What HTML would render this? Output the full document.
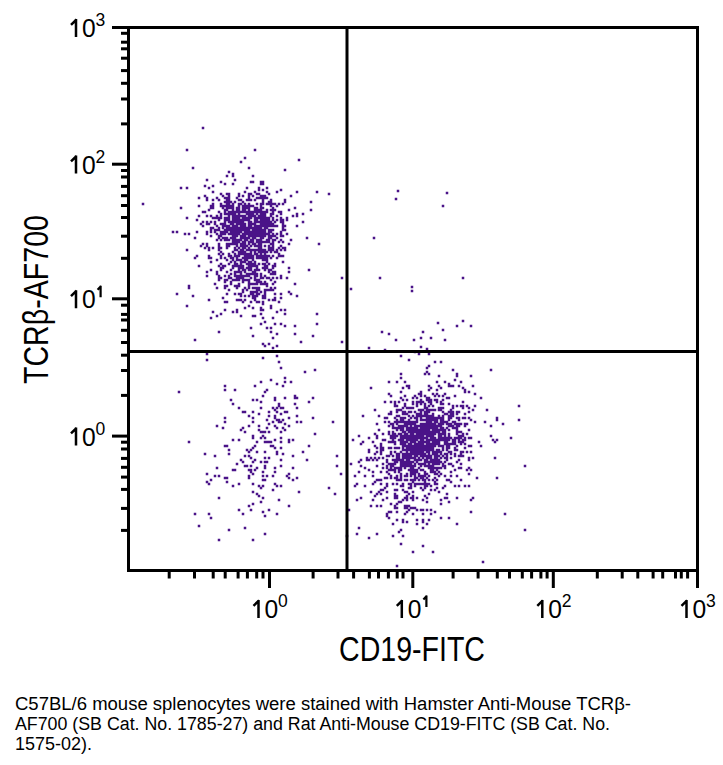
<!DOCTYPE html>
<html><head><meta charset="utf-8"><style>
html,body{margin:0;padding:0;background:#fff;}
body{width:723px;height:765px;overflow:hidden;position:relative;font-family:"Liberation Sans",sans-serif;}
svg{position:absolute;left:0;top:0;}
text{font-family:"Liberation Sans",sans-serif;}
</style></head><body>
<svg width="723" height="765" viewBox="0 0 723 765">
<path fill="#4a1388" d="M141.75 202.75h2.5v2.5h-2.5zM171.75 230.75h2.5v2.5h-2.5zM175.75 230.75h2.5v2.5h-2.5zM175.75 292.75h2.5v2.5h-2.5zM177.75 390.75h2.5v2.5h-2.5zM179.75 186.75h2.5v2.5h-2.5zM179.75 206.75h2.5v2.5h-2.5zM183.75 232.75h2.5v2.5h-2.5zM185.75 148.75h2.5v2.5h-2.5zM185.75 186.75h2.5v2.5h-2.5zM185.75 216.75h2.5v2.5h-2.5zM185.75 248.75h2.5v2.5h-2.5zM185.75 304.75h2.5v2.5h-2.5zM187.75 232.75h2.5v2.5h-2.5zM187.75 284.75h2.5v2.5h-2.5zM187.75 286.75h2.5v2.5h-2.5zM187.75 440.75h2.5v2.5h-2.5zM191.75 166.75h2.5v2.5h-2.5zM191.75 294.75h2.5v2.5h-2.5zM193.75 236.75h2.5v2.5h-2.5zM193.75 256.75h2.5v2.5h-2.5zM193.75 338.75h2.5v2.5h-2.5zM193.75 512.75h2.5v2.5h-2.5zM195.75 218.75h2.5v2.5h-2.5zM195.75 230.75h2.5v2.5h-2.5zM195.75 254.75h2.5v2.5h-2.5zM197.75 196.75h2.5v2.5h-2.5zM197.75 204.75h2.5v2.5h-2.5zM197.75 214.75h2.5v2.5h-2.5zM197.75 264.75h2.5v2.5h-2.5zM197.75 524.75h2.5v2.5h-2.5zM199.75 222.75h2.5v2.5h-2.5zM199.75 244.75h2.5v2.5h-2.5zM201.75 126.75h2.5v2.5h-2.5zM201.75 210.75h2.5v2.5h-2.5zM201.75 220.75h2.5v2.5h-2.5zM201.75 224.75h2.5v2.5h-2.5zM201.75 242.75h2.5v2.5h-2.5zM203.75 184.75h2.5v2.5h-2.5zM203.75 194.75h2.5v2.5h-2.5zM203.75 210.75h2.5v2.5h-2.5zM203.75 246.75h2.5v2.5h-2.5zM203.75 452.75h2.5v2.5h-2.5zM205.75 178.75h2.5v2.5h-2.5zM205.75 196.75h2.5v2.5h-2.5zM205.75 198.75h2.5v2.5h-2.5zM205.75 214.75h2.5v2.5h-2.5zM205.75 220.75h2.5v2.5h-2.5zM205.75 222.75h2.5v2.5h-2.5zM205.75 230.75h2.5v2.5h-2.5zM205.75 232.75h2.5v2.5h-2.5zM205.75 242.75h2.5v2.5h-2.5zM205.75 244.75h2.5v2.5h-2.5zM205.75 270.75h2.5v2.5h-2.5zM205.75 274.75h2.5v2.5h-2.5zM205.75 352.75h2.5v2.5h-2.5zM205.75 358.75h2.5v2.5h-2.5zM205.75 472.75h2.5v2.5h-2.5zM205.75 480.75h2.5v2.5h-2.5zM207.75 186.75h2.5v2.5h-2.5zM207.75 208.75h2.5v2.5h-2.5zM207.75 222.75h2.5v2.5h-2.5zM207.75 246.75h2.5v2.5h-2.5zM207.75 248.75h2.5v2.5h-2.5zM207.75 254.75h2.5v2.5h-2.5zM207.75 256.75h2.5v2.5h-2.5zM207.75 298.75h2.5v2.5h-2.5zM207.75 482.75h2.5v2.5h-2.5zM207.75 512.75h2.5v2.5h-2.5zM209.75 204.75h2.5v2.5h-2.5zM209.75 206.75h2.5v2.5h-2.5zM209.75 214.75h2.5v2.5h-2.5zM209.75 220.75h2.5v2.5h-2.5zM209.75 226.75h2.5v2.5h-2.5zM209.75 228.75h2.5v2.5h-2.5zM209.75 230.75h2.5v2.5h-2.5zM209.75 234.75h2.5v2.5h-2.5zM209.75 256.75h2.5v2.5h-2.5zM209.75 260.75h2.5v2.5h-2.5zM209.75 268.75h2.5v2.5h-2.5zM209.75 316.75h2.5v2.5h-2.5zM209.75 478.75h2.5v2.5h-2.5zM209.75 516.75h2.5v2.5h-2.5zM211.75 184.75h2.5v2.5h-2.5zM211.75 190.75h2.5v2.5h-2.5zM211.75 198.75h2.5v2.5h-2.5zM211.75 202.75h2.5v2.5h-2.5zM211.75 204.75h2.5v2.5h-2.5zM211.75 206.75h2.5v2.5h-2.5zM211.75 216.75h2.5v2.5h-2.5zM211.75 226.75h2.5v2.5h-2.5zM211.75 246.75h2.5v2.5h-2.5zM211.75 310.75h2.5v2.5h-2.5zM213.75 216.75h2.5v2.5h-2.5zM213.75 220.75h2.5v2.5h-2.5zM213.75 222.75h2.5v2.5h-2.5zM213.75 228.75h2.5v2.5h-2.5zM213.75 230.75h2.5v2.5h-2.5zM213.75 282.75h2.5v2.5h-2.5zM213.75 454.75h2.5v2.5h-2.5zM213.75 474.75h2.5v2.5h-2.5zM215.75 196.75h2.5v2.5h-2.5zM215.75 214.75h2.5v2.5h-2.5zM215.75 216.75h2.5v2.5h-2.5zM215.75 224.75h2.5v2.5h-2.5zM215.75 228.75h2.5v2.5h-2.5zM215.75 232.75h2.5v2.5h-2.5zM215.75 238.75h2.5v2.5h-2.5zM215.75 258.75h2.5v2.5h-2.5zM215.75 270.75h2.5v2.5h-2.5zM215.75 272.75h2.5v2.5h-2.5zM215.75 286.75h2.5v2.5h-2.5zM215.75 314.75h2.5v2.5h-2.5zM215.75 424.75h2.5v2.5h-2.5zM215.75 466.75h2.5v2.5h-2.5zM217.75 198.75h2.5v2.5h-2.5zM217.75 210.75h2.5v2.5h-2.5zM217.75 216.75h2.5v2.5h-2.5zM217.75 218.75h2.5v2.5h-2.5zM217.75 226.75h2.5v2.5h-2.5zM217.75 228.75h2.5v2.5h-2.5zM217.75 234.75h2.5v2.5h-2.5zM217.75 236.75h2.5v2.5h-2.5zM217.75 242.75h2.5v2.5h-2.5zM217.75 244.75h2.5v2.5h-2.5zM217.75 246.75h2.5v2.5h-2.5zM217.75 248.75h2.5v2.5h-2.5zM217.75 252.75h2.5v2.5h-2.5zM217.75 264.75h2.5v2.5h-2.5zM217.75 274.75h2.5v2.5h-2.5zM217.75 276.75h2.5v2.5h-2.5zM217.75 278.75h2.5v2.5h-2.5zM217.75 330.75h2.5v2.5h-2.5zM217.75 474.75h2.5v2.5h-2.5zM217.75 496.75h2.5v2.5h-2.5zM217.75 538.75h2.5v2.5h-2.5zM219.75 180.75h2.5v2.5h-2.5zM219.75 192.75h2.5v2.5h-2.5zM219.75 202.75h2.5v2.5h-2.5zM219.75 204.75h2.5v2.5h-2.5zM219.75 212.75h2.5v2.5h-2.5zM219.75 214.75h2.5v2.5h-2.5zM219.75 216.75h2.5v2.5h-2.5zM219.75 222.75h2.5v2.5h-2.5zM219.75 230.75h2.5v2.5h-2.5zM219.75 232.75h2.5v2.5h-2.5zM219.75 234.75h2.5v2.5h-2.5zM219.75 238.75h2.5v2.5h-2.5zM219.75 246.75h2.5v2.5h-2.5zM219.75 250.75h2.5v2.5h-2.5zM219.75 254.75h2.5v2.5h-2.5zM219.75 256.75h2.5v2.5h-2.5zM219.75 262.75h2.5v2.5h-2.5zM219.75 266.75h2.5v2.5h-2.5zM219.75 268.75h2.5v2.5h-2.5zM219.75 276.75h2.5v2.5h-2.5zM219.75 312.75h2.5v2.5h-2.5zM221.75 194.75h2.5v2.5h-2.5zM221.75 204.75h2.5v2.5h-2.5zM221.75 206.75h2.5v2.5h-2.5zM221.75 222.75h2.5v2.5h-2.5zM221.75 224.75h2.5v2.5h-2.5zM221.75 226.75h2.5v2.5h-2.5zM221.75 230.75h2.5v2.5h-2.5zM221.75 232.75h2.5v2.5h-2.5zM221.75 236.75h2.5v2.5h-2.5zM221.75 252.75h2.5v2.5h-2.5zM221.75 264.75h2.5v2.5h-2.5zM221.75 266.75h2.5v2.5h-2.5zM221.75 296.75h2.5v2.5h-2.5zM221.75 426.75h2.5v2.5h-2.5zM223.75 182.75h2.5v2.5h-2.5zM223.75 196.75h2.5v2.5h-2.5zM223.75 200.75h2.5v2.5h-2.5zM223.75 204.75h2.5v2.5h-2.5zM223.75 208.75h2.5v2.5h-2.5zM223.75 210.75h2.5v2.5h-2.5zM223.75 212.75h2.5v2.5h-2.5zM223.75 216.75h2.5v2.5h-2.5zM223.75 218.75h2.5v2.5h-2.5zM223.75 220.75h2.5v2.5h-2.5zM223.75 222.75h2.5v2.5h-2.5zM223.75 224.75h2.5v2.5h-2.5zM223.75 228.75h2.5v2.5h-2.5zM223.75 230.75h2.5v2.5h-2.5zM223.75 232.75h2.5v2.5h-2.5zM223.75 236.75h2.5v2.5h-2.5zM223.75 238.75h2.5v2.5h-2.5zM223.75 256.75h2.5v2.5h-2.5zM223.75 264.75h2.5v2.5h-2.5zM223.75 274.75h2.5v2.5h-2.5zM223.75 278.75h2.5v2.5h-2.5zM223.75 280.75h2.5v2.5h-2.5zM223.75 284.75h2.5v2.5h-2.5zM223.75 286.75h2.5v2.5h-2.5zM223.75 300.75h2.5v2.5h-2.5zM223.75 308.75h2.5v2.5h-2.5zM223.75 384.75h2.5v2.5h-2.5zM223.75 388.75h2.5v2.5h-2.5zM223.75 416.75h2.5v2.5h-2.5zM223.75 420.75h2.5v2.5h-2.5zM223.75 444.75h2.5v2.5h-2.5zM223.75 476.75h2.5v2.5h-2.5zM225.75 174.75h2.5v2.5h-2.5zM225.75 192.75h2.5v2.5h-2.5zM225.75 196.75h2.5v2.5h-2.5zM225.75 198.75h2.5v2.5h-2.5zM225.75 200.75h2.5v2.5h-2.5zM225.75 202.75h2.5v2.5h-2.5zM225.75 204.75h2.5v2.5h-2.5zM225.75 206.75h2.5v2.5h-2.5zM225.75 208.75h2.5v2.5h-2.5zM225.75 212.75h2.5v2.5h-2.5zM225.75 216.75h2.5v2.5h-2.5zM225.75 218.75h2.5v2.5h-2.5zM225.75 224.75h2.5v2.5h-2.5zM225.75 226.75h2.5v2.5h-2.5zM225.75 228.75h2.5v2.5h-2.5zM225.75 230.75h2.5v2.5h-2.5zM225.75 236.75h2.5v2.5h-2.5zM225.75 238.75h2.5v2.5h-2.5zM225.75 242.75h2.5v2.5h-2.5zM225.75 244.75h2.5v2.5h-2.5zM225.75 246.75h2.5v2.5h-2.5zM225.75 258.75h2.5v2.5h-2.5zM225.75 270.75h2.5v2.5h-2.5zM225.75 278.75h2.5v2.5h-2.5zM225.75 284.75h2.5v2.5h-2.5zM225.75 292.75h2.5v2.5h-2.5zM225.75 300.75h2.5v2.5h-2.5zM225.75 444.75h2.5v2.5h-2.5zM225.75 476.75h2.5v2.5h-2.5zM225.75 480.75h2.5v2.5h-2.5zM227.75 170.75h2.5v2.5h-2.5zM227.75 192.75h2.5v2.5h-2.5zM227.75 194.75h2.5v2.5h-2.5zM227.75 196.75h2.5v2.5h-2.5zM227.75 198.75h2.5v2.5h-2.5zM227.75 200.75h2.5v2.5h-2.5zM227.75 202.75h2.5v2.5h-2.5zM227.75 204.75h2.5v2.5h-2.5zM227.75 206.75h2.5v2.5h-2.5zM227.75 210.75h2.5v2.5h-2.5zM227.75 212.75h2.5v2.5h-2.5zM227.75 214.75h2.5v2.5h-2.5zM227.75 216.75h2.5v2.5h-2.5zM227.75 218.75h2.5v2.5h-2.5zM227.75 220.75h2.5v2.5h-2.5zM227.75 224.75h2.5v2.5h-2.5zM227.75 226.75h2.5v2.5h-2.5zM227.75 228.75h2.5v2.5h-2.5zM227.75 232.75h2.5v2.5h-2.5zM227.75 238.75h2.5v2.5h-2.5zM227.75 242.75h2.5v2.5h-2.5zM227.75 244.75h2.5v2.5h-2.5zM227.75 252.75h2.5v2.5h-2.5zM227.75 254.75h2.5v2.5h-2.5zM227.75 262.75h2.5v2.5h-2.5zM227.75 274.75h2.5v2.5h-2.5zM227.75 276.75h2.5v2.5h-2.5zM227.75 288.75h2.5v2.5h-2.5zM227.75 448.75h2.5v2.5h-2.5zM227.75 452.75h2.5v2.5h-2.5zM227.75 528.75h2.5v2.5h-2.5zM229.75 200.75h2.5v2.5h-2.5zM229.75 204.75h2.5v2.5h-2.5zM229.75 206.75h2.5v2.5h-2.5zM229.75 210.75h2.5v2.5h-2.5zM229.75 212.75h2.5v2.5h-2.5zM229.75 220.75h2.5v2.5h-2.5zM229.75 222.75h2.5v2.5h-2.5zM229.75 226.75h2.5v2.5h-2.5zM229.75 228.75h2.5v2.5h-2.5zM229.75 230.75h2.5v2.5h-2.5zM229.75 232.75h2.5v2.5h-2.5zM229.75 236.75h2.5v2.5h-2.5zM229.75 242.75h2.5v2.5h-2.5zM229.75 254.75h2.5v2.5h-2.5zM229.75 256.75h2.5v2.5h-2.5zM229.75 260.75h2.5v2.5h-2.5zM229.75 268.75h2.5v2.5h-2.5zM229.75 272.75h2.5v2.5h-2.5zM229.75 276.75h2.5v2.5h-2.5zM229.75 280.75h2.5v2.5h-2.5zM229.75 282.75h2.5v2.5h-2.5zM229.75 398.75h2.5v2.5h-2.5zM231.75 172.75h2.5v2.5h-2.5zM231.75 174.75h2.5v2.5h-2.5zM231.75 182.75h2.5v2.5h-2.5zM231.75 202.75h2.5v2.5h-2.5zM231.75 204.75h2.5v2.5h-2.5zM231.75 206.75h2.5v2.5h-2.5zM231.75 208.75h2.5v2.5h-2.5zM231.75 210.75h2.5v2.5h-2.5zM231.75 212.75h2.5v2.5h-2.5zM231.75 214.75h2.5v2.5h-2.5zM231.75 216.75h2.5v2.5h-2.5zM231.75 218.75h2.5v2.5h-2.5zM231.75 220.75h2.5v2.5h-2.5zM231.75 222.75h2.5v2.5h-2.5zM231.75 224.75h2.5v2.5h-2.5zM231.75 226.75h2.5v2.5h-2.5zM231.75 228.75h2.5v2.5h-2.5zM231.75 230.75h2.5v2.5h-2.5zM231.75 232.75h2.5v2.5h-2.5zM231.75 234.75h2.5v2.5h-2.5zM231.75 236.75h2.5v2.5h-2.5zM231.75 238.75h2.5v2.5h-2.5zM231.75 240.75h2.5v2.5h-2.5zM231.75 242.75h2.5v2.5h-2.5zM231.75 250.75h2.5v2.5h-2.5zM231.75 256.75h2.5v2.5h-2.5zM231.75 258.75h2.5v2.5h-2.5zM231.75 264.75h2.5v2.5h-2.5zM231.75 266.75h2.5v2.5h-2.5zM231.75 278.75h2.5v2.5h-2.5zM231.75 310.75h2.5v2.5h-2.5zM231.75 402.75h2.5v2.5h-2.5zM231.75 438.75h2.5v2.5h-2.5zM231.75 468.75h2.5v2.5h-2.5zM231.75 484.75h2.5v2.5h-2.5zM233.75 178.75h2.5v2.5h-2.5zM233.75 200.75h2.5v2.5h-2.5zM233.75 210.75h2.5v2.5h-2.5zM233.75 212.75h2.5v2.5h-2.5zM233.75 214.75h2.5v2.5h-2.5zM233.75 216.75h2.5v2.5h-2.5zM233.75 218.75h2.5v2.5h-2.5zM233.75 220.75h2.5v2.5h-2.5zM233.75 224.75h2.5v2.5h-2.5zM233.75 226.75h2.5v2.5h-2.5zM233.75 228.75h2.5v2.5h-2.5zM233.75 230.75h2.5v2.5h-2.5zM233.75 232.75h2.5v2.5h-2.5zM233.75 234.75h2.5v2.5h-2.5zM233.75 236.75h2.5v2.5h-2.5zM233.75 238.75h2.5v2.5h-2.5zM233.75 240.75h2.5v2.5h-2.5zM233.75 242.75h2.5v2.5h-2.5zM233.75 246.75h2.5v2.5h-2.5zM233.75 248.75h2.5v2.5h-2.5zM233.75 252.75h2.5v2.5h-2.5zM233.75 254.75h2.5v2.5h-2.5zM233.75 260.75h2.5v2.5h-2.5zM233.75 262.75h2.5v2.5h-2.5zM233.75 264.75h2.5v2.5h-2.5zM233.75 270.75h2.5v2.5h-2.5zM233.75 272.75h2.5v2.5h-2.5zM233.75 274.75h2.5v2.5h-2.5zM233.75 278.75h2.5v2.5h-2.5zM233.75 284.75h2.5v2.5h-2.5zM233.75 292.75h2.5v2.5h-2.5zM233.75 388.75h2.5v2.5h-2.5zM233.75 468.75h2.5v2.5h-2.5zM235.75 196.75h2.5v2.5h-2.5zM235.75 206.75h2.5v2.5h-2.5zM235.75 208.75h2.5v2.5h-2.5zM235.75 210.75h2.5v2.5h-2.5zM235.75 214.75h2.5v2.5h-2.5zM235.75 216.75h2.5v2.5h-2.5zM235.75 218.75h2.5v2.5h-2.5zM235.75 220.75h2.5v2.5h-2.5zM235.75 222.75h2.5v2.5h-2.5zM235.75 224.75h2.5v2.5h-2.5zM235.75 226.75h2.5v2.5h-2.5zM235.75 228.75h2.5v2.5h-2.5zM235.75 230.75h2.5v2.5h-2.5zM235.75 232.75h2.5v2.5h-2.5zM235.75 234.75h2.5v2.5h-2.5zM235.75 238.75h2.5v2.5h-2.5zM235.75 240.75h2.5v2.5h-2.5zM235.75 242.75h2.5v2.5h-2.5zM235.75 244.75h2.5v2.5h-2.5zM235.75 248.75h2.5v2.5h-2.5zM235.75 254.75h2.5v2.5h-2.5zM235.75 256.75h2.5v2.5h-2.5zM235.75 258.75h2.5v2.5h-2.5zM235.75 262.75h2.5v2.5h-2.5zM235.75 264.75h2.5v2.5h-2.5zM235.75 270.75h2.5v2.5h-2.5zM235.75 274.75h2.5v2.5h-2.5zM235.75 276.75h2.5v2.5h-2.5zM235.75 278.75h2.5v2.5h-2.5zM235.75 284.75h2.5v2.5h-2.5zM235.75 286.75h2.5v2.5h-2.5zM235.75 298.75h2.5v2.5h-2.5zM235.75 308.75h2.5v2.5h-2.5zM235.75 310.75h2.5v2.5h-2.5zM235.75 462.75h2.5v2.5h-2.5zM237.75 192.75h2.5v2.5h-2.5zM237.75 194.75h2.5v2.5h-2.5zM237.75 198.75h2.5v2.5h-2.5zM237.75 202.75h2.5v2.5h-2.5zM237.75 204.75h2.5v2.5h-2.5zM237.75 206.75h2.5v2.5h-2.5zM237.75 208.75h2.5v2.5h-2.5zM237.75 210.75h2.5v2.5h-2.5zM237.75 212.75h2.5v2.5h-2.5zM237.75 214.75h2.5v2.5h-2.5zM237.75 216.75h2.5v2.5h-2.5zM237.75 218.75h2.5v2.5h-2.5zM237.75 220.75h2.5v2.5h-2.5zM237.75 222.75h2.5v2.5h-2.5zM237.75 226.75h2.5v2.5h-2.5zM237.75 228.75h2.5v2.5h-2.5zM237.75 230.75h2.5v2.5h-2.5zM237.75 232.75h2.5v2.5h-2.5zM237.75 238.75h2.5v2.5h-2.5zM237.75 240.75h2.5v2.5h-2.5zM237.75 246.75h2.5v2.5h-2.5zM237.75 250.75h2.5v2.5h-2.5zM237.75 252.75h2.5v2.5h-2.5zM237.75 254.75h2.5v2.5h-2.5zM237.75 258.75h2.5v2.5h-2.5zM237.75 264.75h2.5v2.5h-2.5zM237.75 266.75h2.5v2.5h-2.5zM237.75 268.75h2.5v2.5h-2.5zM237.75 270.75h2.5v2.5h-2.5zM237.75 274.75h2.5v2.5h-2.5zM237.75 276.75h2.5v2.5h-2.5zM237.75 278.75h2.5v2.5h-2.5zM237.75 282.75h2.5v2.5h-2.5zM237.75 284.75h2.5v2.5h-2.5zM237.75 292.75h2.5v2.5h-2.5zM237.75 298.75h2.5v2.5h-2.5zM237.75 406.75h2.5v2.5h-2.5zM237.75 438.75h2.5v2.5h-2.5zM237.75 482.75h2.5v2.5h-2.5zM237.75 508.75h2.5v2.5h-2.5zM239.75 160.75h2.5v2.5h-2.5zM239.75 198.75h2.5v2.5h-2.5zM239.75 202.75h2.5v2.5h-2.5zM239.75 210.75h2.5v2.5h-2.5zM239.75 214.75h2.5v2.5h-2.5zM239.75 218.75h2.5v2.5h-2.5zM239.75 220.75h2.5v2.5h-2.5zM239.75 222.75h2.5v2.5h-2.5zM239.75 224.75h2.5v2.5h-2.5zM239.75 226.75h2.5v2.5h-2.5zM239.75 228.75h2.5v2.5h-2.5zM239.75 230.75h2.5v2.5h-2.5zM239.75 234.75h2.5v2.5h-2.5zM239.75 236.75h2.5v2.5h-2.5zM239.75 238.75h2.5v2.5h-2.5zM239.75 242.75h2.5v2.5h-2.5zM239.75 244.75h2.5v2.5h-2.5zM239.75 248.75h2.5v2.5h-2.5zM239.75 250.75h2.5v2.5h-2.5zM239.75 252.75h2.5v2.5h-2.5zM239.75 258.75h2.5v2.5h-2.5zM239.75 260.75h2.5v2.5h-2.5zM239.75 262.75h2.5v2.5h-2.5zM239.75 264.75h2.5v2.5h-2.5zM239.75 266.75h2.5v2.5h-2.5zM239.75 270.75h2.5v2.5h-2.5zM239.75 272.75h2.5v2.5h-2.5zM239.75 274.75h2.5v2.5h-2.5zM239.75 276.75h2.5v2.5h-2.5zM239.75 292.75h2.5v2.5h-2.5zM239.75 294.75h2.5v2.5h-2.5zM239.75 298.75h2.5v2.5h-2.5zM239.75 314.75h2.5v2.5h-2.5zM239.75 428.75h2.5v2.5h-2.5zM239.75 458.75h2.5v2.5h-2.5zM241.75 194.75h2.5v2.5h-2.5zM241.75 200.75h2.5v2.5h-2.5zM241.75 204.75h2.5v2.5h-2.5zM241.75 206.75h2.5v2.5h-2.5zM241.75 208.75h2.5v2.5h-2.5zM241.75 210.75h2.5v2.5h-2.5zM241.75 214.75h2.5v2.5h-2.5zM241.75 216.75h2.5v2.5h-2.5zM241.75 218.75h2.5v2.5h-2.5zM241.75 220.75h2.5v2.5h-2.5zM241.75 222.75h2.5v2.5h-2.5zM241.75 224.75h2.5v2.5h-2.5zM241.75 226.75h2.5v2.5h-2.5zM241.75 228.75h2.5v2.5h-2.5zM241.75 232.75h2.5v2.5h-2.5zM241.75 234.75h2.5v2.5h-2.5zM241.75 236.75h2.5v2.5h-2.5zM241.75 240.75h2.5v2.5h-2.5zM241.75 242.75h2.5v2.5h-2.5zM241.75 244.75h2.5v2.5h-2.5zM241.75 246.75h2.5v2.5h-2.5zM241.75 248.75h2.5v2.5h-2.5zM241.75 250.75h2.5v2.5h-2.5zM241.75 252.75h2.5v2.5h-2.5zM241.75 256.75h2.5v2.5h-2.5zM241.75 260.75h2.5v2.5h-2.5zM241.75 264.75h2.5v2.5h-2.5zM241.75 266.75h2.5v2.5h-2.5zM241.75 268.75h2.5v2.5h-2.5zM241.75 274.75h2.5v2.5h-2.5zM241.75 276.75h2.5v2.5h-2.5zM241.75 278.75h2.5v2.5h-2.5zM241.75 280.75h2.5v2.5h-2.5zM241.75 288.75h2.5v2.5h-2.5zM241.75 290.75h2.5v2.5h-2.5zM241.75 300.75h2.5v2.5h-2.5zM241.75 410.75h2.5v2.5h-2.5zM241.75 426.75h2.5v2.5h-2.5zM241.75 460.75h2.5v2.5h-2.5zM241.75 512.75h2.5v2.5h-2.5zM243.75 156.75h2.5v2.5h-2.5zM243.75 190.75h2.5v2.5h-2.5zM243.75 202.75h2.5v2.5h-2.5zM243.75 204.75h2.5v2.5h-2.5zM243.75 206.75h2.5v2.5h-2.5zM243.75 208.75h2.5v2.5h-2.5zM243.75 210.75h2.5v2.5h-2.5zM243.75 214.75h2.5v2.5h-2.5zM243.75 216.75h2.5v2.5h-2.5zM243.75 218.75h2.5v2.5h-2.5zM243.75 222.75h2.5v2.5h-2.5zM243.75 224.75h2.5v2.5h-2.5zM243.75 226.75h2.5v2.5h-2.5zM243.75 228.75h2.5v2.5h-2.5zM243.75 230.75h2.5v2.5h-2.5zM243.75 232.75h2.5v2.5h-2.5zM243.75 234.75h2.5v2.5h-2.5zM243.75 236.75h2.5v2.5h-2.5zM243.75 238.75h2.5v2.5h-2.5zM243.75 240.75h2.5v2.5h-2.5zM243.75 242.75h2.5v2.5h-2.5zM243.75 244.75h2.5v2.5h-2.5zM243.75 246.75h2.5v2.5h-2.5zM243.75 250.75h2.5v2.5h-2.5zM243.75 252.75h2.5v2.5h-2.5zM243.75 254.75h2.5v2.5h-2.5zM243.75 256.75h2.5v2.5h-2.5zM243.75 258.75h2.5v2.5h-2.5zM243.75 260.75h2.5v2.5h-2.5zM243.75 268.75h2.5v2.5h-2.5zM243.75 270.75h2.5v2.5h-2.5zM243.75 274.75h2.5v2.5h-2.5zM243.75 278.75h2.5v2.5h-2.5zM243.75 286.75h2.5v2.5h-2.5zM243.75 294.75h2.5v2.5h-2.5zM243.75 298.75h2.5v2.5h-2.5zM243.75 306.75h2.5v2.5h-2.5zM243.75 410.75h2.5v2.5h-2.5zM243.75 430.75h2.5v2.5h-2.5zM243.75 454.75h2.5v2.5h-2.5zM243.75 464.75h2.5v2.5h-2.5zM243.75 526.75h2.5v2.5h-2.5zM245.75 186.75h2.5v2.5h-2.5zM245.75 198.75h2.5v2.5h-2.5zM245.75 204.75h2.5v2.5h-2.5zM245.75 206.75h2.5v2.5h-2.5zM245.75 210.75h2.5v2.5h-2.5zM245.75 212.75h2.5v2.5h-2.5zM245.75 216.75h2.5v2.5h-2.5zM245.75 218.75h2.5v2.5h-2.5zM245.75 226.75h2.5v2.5h-2.5zM245.75 228.75h2.5v2.5h-2.5zM245.75 230.75h2.5v2.5h-2.5zM245.75 232.75h2.5v2.5h-2.5zM245.75 236.75h2.5v2.5h-2.5zM245.75 238.75h2.5v2.5h-2.5zM245.75 244.75h2.5v2.5h-2.5zM245.75 248.75h2.5v2.5h-2.5zM245.75 252.75h2.5v2.5h-2.5zM245.75 254.75h2.5v2.5h-2.5zM245.75 256.75h2.5v2.5h-2.5zM245.75 258.75h2.5v2.5h-2.5zM245.75 262.75h2.5v2.5h-2.5zM245.75 266.75h2.5v2.5h-2.5zM245.75 272.75h2.5v2.5h-2.5zM245.75 274.75h2.5v2.5h-2.5zM245.75 278.75h2.5v2.5h-2.5zM245.75 288.75h2.5v2.5h-2.5zM245.75 448.75h2.5v2.5h-2.5zM245.75 464.75h2.5v2.5h-2.5zM247.75 166.75h2.5v2.5h-2.5zM247.75 192.75h2.5v2.5h-2.5zM247.75 194.75h2.5v2.5h-2.5zM247.75 196.75h2.5v2.5h-2.5zM247.75 198.75h2.5v2.5h-2.5zM247.75 202.75h2.5v2.5h-2.5zM247.75 204.75h2.5v2.5h-2.5zM247.75 206.75h2.5v2.5h-2.5zM247.75 208.75h2.5v2.5h-2.5zM247.75 210.75h2.5v2.5h-2.5zM247.75 212.75h2.5v2.5h-2.5zM247.75 214.75h2.5v2.5h-2.5zM247.75 216.75h2.5v2.5h-2.5zM247.75 218.75h2.5v2.5h-2.5zM247.75 220.75h2.5v2.5h-2.5zM247.75 222.75h2.5v2.5h-2.5zM247.75 224.75h2.5v2.5h-2.5zM247.75 226.75h2.5v2.5h-2.5zM247.75 228.75h2.5v2.5h-2.5zM247.75 230.75h2.5v2.5h-2.5zM247.75 232.75h2.5v2.5h-2.5zM247.75 234.75h2.5v2.5h-2.5zM247.75 236.75h2.5v2.5h-2.5zM247.75 240.75h2.5v2.5h-2.5zM247.75 242.75h2.5v2.5h-2.5zM247.75 246.75h2.5v2.5h-2.5zM247.75 248.75h2.5v2.5h-2.5zM247.75 252.75h2.5v2.5h-2.5zM247.75 254.75h2.5v2.5h-2.5zM247.75 256.75h2.5v2.5h-2.5zM247.75 260.75h2.5v2.5h-2.5zM247.75 262.75h2.5v2.5h-2.5zM247.75 264.75h2.5v2.5h-2.5zM247.75 266.75h2.5v2.5h-2.5zM247.75 268.75h2.5v2.5h-2.5zM247.75 272.75h2.5v2.5h-2.5zM247.75 274.75h2.5v2.5h-2.5zM247.75 278.75h2.5v2.5h-2.5zM247.75 280.75h2.5v2.5h-2.5zM247.75 282.75h2.5v2.5h-2.5zM247.75 284.75h2.5v2.5h-2.5zM247.75 286.75h2.5v2.5h-2.5zM247.75 294.75h2.5v2.5h-2.5zM247.75 304.75h2.5v2.5h-2.5zM247.75 414.75h2.5v2.5h-2.5zM247.75 424.75h2.5v2.5h-2.5zM247.75 450.75h2.5v2.5h-2.5zM247.75 454.75h2.5v2.5h-2.5zM247.75 468.75h2.5v2.5h-2.5zM247.75 474.75h2.5v2.5h-2.5zM247.75 476.75h2.5v2.5h-2.5zM247.75 504.75h2.5v2.5h-2.5zM249.75 180.75h2.5v2.5h-2.5zM249.75 192.75h2.5v2.5h-2.5zM249.75 198.75h2.5v2.5h-2.5zM249.75 204.75h2.5v2.5h-2.5zM249.75 210.75h2.5v2.5h-2.5zM249.75 212.75h2.5v2.5h-2.5zM249.75 214.75h2.5v2.5h-2.5zM249.75 216.75h2.5v2.5h-2.5zM249.75 220.75h2.5v2.5h-2.5zM249.75 222.75h2.5v2.5h-2.5zM249.75 224.75h2.5v2.5h-2.5zM249.75 226.75h2.5v2.5h-2.5zM249.75 230.75h2.5v2.5h-2.5zM249.75 232.75h2.5v2.5h-2.5zM249.75 234.75h2.5v2.5h-2.5zM249.75 238.75h2.5v2.5h-2.5zM249.75 240.75h2.5v2.5h-2.5zM249.75 244.75h2.5v2.5h-2.5zM249.75 248.75h2.5v2.5h-2.5zM249.75 250.75h2.5v2.5h-2.5zM249.75 252.75h2.5v2.5h-2.5zM249.75 254.75h2.5v2.5h-2.5zM249.75 256.75h2.5v2.5h-2.5zM249.75 260.75h2.5v2.5h-2.5zM249.75 262.75h2.5v2.5h-2.5zM249.75 264.75h2.5v2.5h-2.5zM249.75 266.75h2.5v2.5h-2.5zM249.75 268.75h2.5v2.5h-2.5zM249.75 272.75h2.5v2.5h-2.5zM249.75 276.75h2.5v2.5h-2.5zM249.75 282.75h2.5v2.5h-2.5zM249.75 290.75h2.5v2.5h-2.5zM249.75 292.75h2.5v2.5h-2.5zM249.75 300.75h2.5v2.5h-2.5zM249.75 326.75h2.5v2.5h-2.5zM249.75 448.75h2.5v2.5h-2.5zM249.75 456.75h2.5v2.5h-2.5zM249.75 464.75h2.5v2.5h-2.5zM249.75 468.75h2.5v2.5h-2.5zM249.75 470.75h2.5v2.5h-2.5zM249.75 508.75h2.5v2.5h-2.5zM251.75 174.75h2.5v2.5h-2.5zM251.75 180.75h2.5v2.5h-2.5zM251.75 194.75h2.5v2.5h-2.5zM251.75 204.75h2.5v2.5h-2.5zM251.75 210.75h2.5v2.5h-2.5zM251.75 212.75h2.5v2.5h-2.5zM251.75 214.75h2.5v2.5h-2.5zM251.75 222.75h2.5v2.5h-2.5zM251.75 226.75h2.5v2.5h-2.5zM251.75 228.75h2.5v2.5h-2.5zM251.75 230.75h2.5v2.5h-2.5zM251.75 232.75h2.5v2.5h-2.5zM251.75 234.75h2.5v2.5h-2.5zM251.75 236.75h2.5v2.5h-2.5zM251.75 238.75h2.5v2.5h-2.5zM251.75 240.75h2.5v2.5h-2.5zM251.75 242.75h2.5v2.5h-2.5zM251.75 248.75h2.5v2.5h-2.5zM251.75 254.75h2.5v2.5h-2.5zM251.75 256.75h2.5v2.5h-2.5zM251.75 258.75h2.5v2.5h-2.5zM251.75 262.75h2.5v2.5h-2.5zM251.75 264.75h2.5v2.5h-2.5zM251.75 270.75h2.5v2.5h-2.5zM251.75 272.75h2.5v2.5h-2.5zM251.75 282.75h2.5v2.5h-2.5zM251.75 286.75h2.5v2.5h-2.5zM251.75 290.75h2.5v2.5h-2.5zM251.75 292.75h2.5v2.5h-2.5zM251.75 294.75h2.5v2.5h-2.5zM251.75 296.75h2.5v2.5h-2.5zM251.75 306.75h2.5v2.5h-2.5zM251.75 314.75h2.5v2.5h-2.5zM251.75 334.75h2.5v2.5h-2.5zM251.75 398.75h2.5v2.5h-2.5zM251.75 410.75h2.5v2.5h-2.5zM251.75 416.75h2.5v2.5h-2.5zM251.75 420.75h2.5v2.5h-2.5zM251.75 434.75h2.5v2.5h-2.5zM251.75 436.75h2.5v2.5h-2.5zM251.75 446.75h2.5v2.5h-2.5zM251.75 460.75h2.5v2.5h-2.5zM251.75 472.75h2.5v2.5h-2.5zM251.75 482.75h2.5v2.5h-2.5zM251.75 490.75h2.5v2.5h-2.5zM251.75 502.75h2.5v2.5h-2.5zM251.75 538.75h2.5v2.5h-2.5zM253.75 148.75h2.5v2.5h-2.5zM253.75 190.75h2.5v2.5h-2.5zM253.75 198.75h2.5v2.5h-2.5zM253.75 206.75h2.5v2.5h-2.5zM253.75 208.75h2.5v2.5h-2.5zM253.75 210.75h2.5v2.5h-2.5zM253.75 214.75h2.5v2.5h-2.5zM253.75 216.75h2.5v2.5h-2.5zM253.75 218.75h2.5v2.5h-2.5zM253.75 220.75h2.5v2.5h-2.5zM253.75 222.75h2.5v2.5h-2.5zM253.75 224.75h2.5v2.5h-2.5zM253.75 226.75h2.5v2.5h-2.5zM253.75 228.75h2.5v2.5h-2.5zM253.75 230.75h2.5v2.5h-2.5zM253.75 232.75h2.5v2.5h-2.5zM253.75 234.75h2.5v2.5h-2.5zM253.75 236.75h2.5v2.5h-2.5zM253.75 242.75h2.5v2.5h-2.5zM253.75 244.75h2.5v2.5h-2.5zM253.75 248.75h2.5v2.5h-2.5zM253.75 250.75h2.5v2.5h-2.5zM253.75 252.75h2.5v2.5h-2.5zM253.75 260.75h2.5v2.5h-2.5zM253.75 262.75h2.5v2.5h-2.5zM253.75 264.75h2.5v2.5h-2.5zM253.75 268.75h2.5v2.5h-2.5zM253.75 270.75h2.5v2.5h-2.5zM253.75 272.75h2.5v2.5h-2.5zM253.75 274.75h2.5v2.5h-2.5zM253.75 276.75h2.5v2.5h-2.5zM253.75 278.75h2.5v2.5h-2.5zM253.75 282.75h2.5v2.5h-2.5zM253.75 286.75h2.5v2.5h-2.5zM253.75 290.75h2.5v2.5h-2.5zM253.75 294.75h2.5v2.5h-2.5zM253.75 296.75h2.5v2.5h-2.5zM253.75 298.75h2.5v2.5h-2.5zM253.75 314.75h2.5v2.5h-2.5zM253.75 384.75h2.5v2.5h-2.5zM253.75 444.75h2.5v2.5h-2.5zM253.75 458.75h2.5v2.5h-2.5zM253.75 468.75h2.5v2.5h-2.5zM255.75 192.75h2.5v2.5h-2.5zM255.75 196.75h2.5v2.5h-2.5zM255.75 202.75h2.5v2.5h-2.5zM255.75 206.75h2.5v2.5h-2.5zM255.75 208.75h2.5v2.5h-2.5zM255.75 210.75h2.5v2.5h-2.5zM255.75 212.75h2.5v2.5h-2.5zM255.75 216.75h2.5v2.5h-2.5zM255.75 218.75h2.5v2.5h-2.5zM255.75 220.75h2.5v2.5h-2.5zM255.75 224.75h2.5v2.5h-2.5zM255.75 226.75h2.5v2.5h-2.5zM255.75 228.75h2.5v2.5h-2.5zM255.75 230.75h2.5v2.5h-2.5zM255.75 232.75h2.5v2.5h-2.5zM255.75 234.75h2.5v2.5h-2.5zM255.75 238.75h2.5v2.5h-2.5zM255.75 240.75h2.5v2.5h-2.5zM255.75 244.75h2.5v2.5h-2.5zM255.75 248.75h2.5v2.5h-2.5zM255.75 252.75h2.5v2.5h-2.5zM255.75 254.75h2.5v2.5h-2.5zM255.75 256.75h2.5v2.5h-2.5zM255.75 264.75h2.5v2.5h-2.5zM255.75 266.75h2.5v2.5h-2.5zM255.75 268.75h2.5v2.5h-2.5zM255.75 272.75h2.5v2.5h-2.5zM255.75 274.75h2.5v2.5h-2.5zM255.75 278.75h2.5v2.5h-2.5zM255.75 280.75h2.5v2.5h-2.5zM255.75 282.75h2.5v2.5h-2.5zM255.75 286.75h2.5v2.5h-2.5zM255.75 288.75h2.5v2.5h-2.5zM255.75 290.75h2.5v2.5h-2.5zM255.75 292.75h2.5v2.5h-2.5zM255.75 294.75h2.5v2.5h-2.5zM255.75 300.75h2.5v2.5h-2.5zM255.75 398.75h2.5v2.5h-2.5zM255.75 440.75h2.5v2.5h-2.5zM255.75 450.75h2.5v2.5h-2.5zM255.75 466.75h2.5v2.5h-2.5zM255.75 492.75h2.5v2.5h-2.5zM257.75 186.75h2.5v2.5h-2.5zM257.75 188.75h2.5v2.5h-2.5zM257.75 192.75h2.5v2.5h-2.5zM257.75 196.75h2.5v2.5h-2.5zM257.75 208.75h2.5v2.5h-2.5zM257.75 210.75h2.5v2.5h-2.5zM257.75 214.75h2.5v2.5h-2.5zM257.75 216.75h2.5v2.5h-2.5zM257.75 220.75h2.5v2.5h-2.5zM257.75 224.75h2.5v2.5h-2.5zM257.75 226.75h2.5v2.5h-2.5zM257.75 228.75h2.5v2.5h-2.5zM257.75 230.75h2.5v2.5h-2.5zM257.75 232.75h2.5v2.5h-2.5zM257.75 234.75h2.5v2.5h-2.5zM257.75 238.75h2.5v2.5h-2.5zM257.75 240.75h2.5v2.5h-2.5zM257.75 242.75h2.5v2.5h-2.5zM257.75 244.75h2.5v2.5h-2.5zM257.75 246.75h2.5v2.5h-2.5zM257.75 248.75h2.5v2.5h-2.5zM257.75 250.75h2.5v2.5h-2.5zM257.75 254.75h2.5v2.5h-2.5zM257.75 256.75h2.5v2.5h-2.5zM257.75 262.75h2.5v2.5h-2.5zM257.75 268.75h2.5v2.5h-2.5zM257.75 278.75h2.5v2.5h-2.5zM257.75 280.75h2.5v2.5h-2.5zM257.75 286.75h2.5v2.5h-2.5zM257.75 288.75h2.5v2.5h-2.5zM257.75 292.75h2.5v2.5h-2.5zM257.75 300.75h2.5v2.5h-2.5zM257.75 412.75h2.5v2.5h-2.5zM257.75 424.75h2.5v2.5h-2.5zM257.75 428.75h2.5v2.5h-2.5zM257.75 484.75h2.5v2.5h-2.5zM257.75 494.75h2.5v2.5h-2.5zM259.75 180.75h2.5v2.5h-2.5zM259.75 182.75h2.5v2.5h-2.5zM259.75 194.75h2.5v2.5h-2.5zM259.75 196.75h2.5v2.5h-2.5zM259.75 202.75h2.5v2.5h-2.5zM259.75 204.75h2.5v2.5h-2.5zM259.75 206.75h2.5v2.5h-2.5zM259.75 208.75h2.5v2.5h-2.5zM259.75 210.75h2.5v2.5h-2.5zM259.75 212.75h2.5v2.5h-2.5zM259.75 214.75h2.5v2.5h-2.5zM259.75 216.75h2.5v2.5h-2.5zM259.75 218.75h2.5v2.5h-2.5zM259.75 220.75h2.5v2.5h-2.5zM259.75 222.75h2.5v2.5h-2.5zM259.75 224.75h2.5v2.5h-2.5zM259.75 226.75h2.5v2.5h-2.5zM259.75 228.75h2.5v2.5h-2.5zM259.75 230.75h2.5v2.5h-2.5zM259.75 232.75h2.5v2.5h-2.5zM259.75 234.75h2.5v2.5h-2.5zM259.75 236.75h2.5v2.5h-2.5zM259.75 238.75h2.5v2.5h-2.5zM259.75 240.75h2.5v2.5h-2.5zM259.75 242.75h2.5v2.5h-2.5zM259.75 244.75h2.5v2.5h-2.5zM259.75 246.75h2.5v2.5h-2.5zM259.75 248.75h2.5v2.5h-2.5zM259.75 250.75h2.5v2.5h-2.5zM259.75 252.75h2.5v2.5h-2.5zM259.75 254.75h2.5v2.5h-2.5zM259.75 256.75h2.5v2.5h-2.5zM259.75 272.75h2.5v2.5h-2.5zM259.75 274.75h2.5v2.5h-2.5zM259.75 276.75h2.5v2.5h-2.5zM259.75 280.75h2.5v2.5h-2.5zM259.75 282.75h2.5v2.5h-2.5zM259.75 290.75h2.5v2.5h-2.5zM259.75 306.75h2.5v2.5h-2.5zM259.75 308.75h2.5v2.5h-2.5zM259.75 312.75h2.5v2.5h-2.5zM259.75 322.75h2.5v2.5h-2.5zM259.75 380.75h2.5v2.5h-2.5zM259.75 400.75h2.5v2.5h-2.5zM259.75 406.75h2.5v2.5h-2.5zM259.75 430.75h2.5v2.5h-2.5zM259.75 436.75h2.5v2.5h-2.5zM259.75 460.75h2.5v2.5h-2.5zM259.75 486.75h2.5v2.5h-2.5zM259.75 500.75h2.5v2.5h-2.5zM261.75 180.75h2.5v2.5h-2.5zM261.75 182.75h2.5v2.5h-2.5zM261.75 188.75h2.5v2.5h-2.5zM261.75 194.75h2.5v2.5h-2.5zM261.75 196.75h2.5v2.5h-2.5zM261.75 198.75h2.5v2.5h-2.5zM261.75 200.75h2.5v2.5h-2.5zM261.75 202.75h2.5v2.5h-2.5zM261.75 206.75h2.5v2.5h-2.5zM261.75 210.75h2.5v2.5h-2.5zM261.75 212.75h2.5v2.5h-2.5zM261.75 214.75h2.5v2.5h-2.5zM261.75 216.75h2.5v2.5h-2.5zM261.75 218.75h2.5v2.5h-2.5zM261.75 220.75h2.5v2.5h-2.5zM261.75 222.75h2.5v2.5h-2.5zM261.75 224.75h2.5v2.5h-2.5zM261.75 228.75h2.5v2.5h-2.5zM261.75 230.75h2.5v2.5h-2.5zM261.75 232.75h2.5v2.5h-2.5zM261.75 234.75h2.5v2.5h-2.5zM261.75 236.75h2.5v2.5h-2.5zM261.75 240.75h2.5v2.5h-2.5zM261.75 248.75h2.5v2.5h-2.5zM261.75 250.75h2.5v2.5h-2.5zM261.75 254.75h2.5v2.5h-2.5zM261.75 256.75h2.5v2.5h-2.5zM261.75 258.75h2.5v2.5h-2.5zM261.75 262.75h2.5v2.5h-2.5zM261.75 266.75h2.5v2.5h-2.5zM261.75 276.75h2.5v2.5h-2.5zM261.75 282.75h2.5v2.5h-2.5zM261.75 294.75h2.5v2.5h-2.5zM261.75 296.75h2.5v2.5h-2.5zM261.75 300.75h2.5v2.5h-2.5zM261.75 302.75h2.5v2.5h-2.5zM261.75 308.75h2.5v2.5h-2.5zM261.75 316.75h2.5v2.5h-2.5zM261.75 342.75h2.5v2.5h-2.5zM261.75 356.75h2.5v2.5h-2.5zM261.75 394.75h2.5v2.5h-2.5zM261.75 430.75h2.5v2.5h-2.5zM261.75 434.75h2.5v2.5h-2.5zM261.75 470.75h2.5v2.5h-2.5zM261.75 474.75h2.5v2.5h-2.5zM261.75 478.75h2.5v2.5h-2.5zM261.75 484.75h2.5v2.5h-2.5zM261.75 496.75h2.5v2.5h-2.5zM261.75 510.75h2.5v2.5h-2.5zM263.75 194.75h2.5v2.5h-2.5zM263.75 196.75h2.5v2.5h-2.5zM263.75 210.75h2.5v2.5h-2.5zM263.75 212.75h2.5v2.5h-2.5zM263.75 214.75h2.5v2.5h-2.5zM263.75 216.75h2.5v2.5h-2.5zM263.75 218.75h2.5v2.5h-2.5zM263.75 220.75h2.5v2.5h-2.5zM263.75 222.75h2.5v2.5h-2.5zM263.75 224.75h2.5v2.5h-2.5zM263.75 226.75h2.5v2.5h-2.5zM263.75 228.75h2.5v2.5h-2.5zM263.75 230.75h2.5v2.5h-2.5zM263.75 232.75h2.5v2.5h-2.5zM263.75 234.75h2.5v2.5h-2.5zM263.75 240.75h2.5v2.5h-2.5zM263.75 244.75h2.5v2.5h-2.5zM263.75 248.75h2.5v2.5h-2.5zM263.75 250.75h2.5v2.5h-2.5zM263.75 252.75h2.5v2.5h-2.5zM263.75 254.75h2.5v2.5h-2.5zM263.75 256.75h2.5v2.5h-2.5zM263.75 258.75h2.5v2.5h-2.5zM263.75 262.75h2.5v2.5h-2.5zM263.75 264.75h2.5v2.5h-2.5zM263.75 266.75h2.5v2.5h-2.5zM263.75 268.75h2.5v2.5h-2.5zM263.75 274.75h2.5v2.5h-2.5zM263.75 280.75h2.5v2.5h-2.5zM263.75 282.75h2.5v2.5h-2.5zM263.75 288.75h2.5v2.5h-2.5zM263.75 290.75h2.5v2.5h-2.5zM263.75 292.75h2.5v2.5h-2.5zM263.75 294.75h2.5v2.5h-2.5zM263.75 296.75h2.5v2.5h-2.5zM263.75 320.75h2.5v2.5h-2.5zM263.75 344.75h2.5v2.5h-2.5zM263.75 390.75h2.5v2.5h-2.5zM263.75 430.75h2.5v2.5h-2.5zM263.75 436.75h2.5v2.5h-2.5zM263.75 440.75h2.5v2.5h-2.5zM263.75 450.75h2.5v2.5h-2.5zM263.75 456.75h2.5v2.5h-2.5zM263.75 460.75h2.5v2.5h-2.5zM263.75 464.75h2.5v2.5h-2.5zM263.75 466.75h2.5v2.5h-2.5zM263.75 478.75h2.5v2.5h-2.5zM263.75 514.75h2.5v2.5h-2.5zM263.75 532.75h2.5v2.5h-2.5zM265.75 186.75h2.5v2.5h-2.5zM265.75 190.75h2.5v2.5h-2.5zM265.75 196.75h2.5v2.5h-2.5zM265.75 202.75h2.5v2.5h-2.5zM265.75 208.75h2.5v2.5h-2.5zM265.75 210.75h2.5v2.5h-2.5zM265.75 216.75h2.5v2.5h-2.5zM265.75 218.75h2.5v2.5h-2.5zM265.75 220.75h2.5v2.5h-2.5zM265.75 222.75h2.5v2.5h-2.5zM265.75 224.75h2.5v2.5h-2.5zM265.75 226.75h2.5v2.5h-2.5zM265.75 232.75h2.5v2.5h-2.5zM265.75 238.75h2.5v2.5h-2.5zM265.75 240.75h2.5v2.5h-2.5zM265.75 250.75h2.5v2.5h-2.5zM265.75 254.75h2.5v2.5h-2.5zM265.75 256.75h2.5v2.5h-2.5zM265.75 258.75h2.5v2.5h-2.5zM265.75 260.75h2.5v2.5h-2.5zM265.75 264.75h2.5v2.5h-2.5zM265.75 266.75h2.5v2.5h-2.5zM265.75 276.75h2.5v2.5h-2.5zM265.75 282.75h2.5v2.5h-2.5zM265.75 284.75h2.5v2.5h-2.5zM265.75 288.75h2.5v2.5h-2.5zM265.75 326.75h2.5v2.5h-2.5zM265.75 388.75h2.5v2.5h-2.5zM265.75 418.75h2.5v2.5h-2.5zM265.75 426.75h2.5v2.5h-2.5zM265.75 440.75h2.5v2.5h-2.5zM265.75 460.75h2.5v2.5h-2.5zM265.75 474.75h2.5v2.5h-2.5zM267.75 192.75h2.5v2.5h-2.5zM267.75 200.75h2.5v2.5h-2.5zM267.75 202.75h2.5v2.5h-2.5zM267.75 216.75h2.5v2.5h-2.5zM267.75 218.75h2.5v2.5h-2.5zM267.75 220.75h2.5v2.5h-2.5zM267.75 222.75h2.5v2.5h-2.5zM267.75 224.75h2.5v2.5h-2.5zM267.75 228.75h2.5v2.5h-2.5zM267.75 230.75h2.5v2.5h-2.5zM267.75 232.75h2.5v2.5h-2.5zM267.75 234.75h2.5v2.5h-2.5zM267.75 236.75h2.5v2.5h-2.5zM267.75 238.75h2.5v2.5h-2.5zM267.75 240.75h2.5v2.5h-2.5zM267.75 244.75h2.5v2.5h-2.5zM267.75 246.75h2.5v2.5h-2.5zM267.75 248.75h2.5v2.5h-2.5zM267.75 254.75h2.5v2.5h-2.5zM267.75 262.75h2.5v2.5h-2.5zM267.75 268.75h2.5v2.5h-2.5zM267.75 270.75h2.5v2.5h-2.5zM267.75 276.75h2.5v2.5h-2.5zM267.75 288.75h2.5v2.5h-2.5zM267.75 298.75h2.5v2.5h-2.5zM267.75 342.75h2.5v2.5h-2.5zM267.75 410.75h2.5v2.5h-2.5zM267.75 414.75h2.5v2.5h-2.5zM267.75 422.75h2.5v2.5h-2.5zM267.75 430.75h2.5v2.5h-2.5zM267.75 440.75h2.5v2.5h-2.5zM267.75 456.75h2.5v2.5h-2.5zM267.75 508.75h2.5v2.5h-2.5zM269.75 198.75h2.5v2.5h-2.5zM269.75 200.75h2.5v2.5h-2.5zM269.75 202.75h2.5v2.5h-2.5zM269.75 204.75h2.5v2.5h-2.5zM269.75 208.75h2.5v2.5h-2.5zM269.75 212.75h2.5v2.5h-2.5zM269.75 214.75h2.5v2.5h-2.5zM269.75 220.75h2.5v2.5h-2.5zM269.75 222.75h2.5v2.5h-2.5zM269.75 224.75h2.5v2.5h-2.5zM269.75 228.75h2.5v2.5h-2.5zM269.75 230.75h2.5v2.5h-2.5zM269.75 234.75h2.5v2.5h-2.5zM269.75 236.75h2.5v2.5h-2.5zM269.75 242.75h2.5v2.5h-2.5zM269.75 246.75h2.5v2.5h-2.5zM269.75 248.75h2.5v2.5h-2.5zM269.75 250.75h2.5v2.5h-2.5zM269.75 256.75h2.5v2.5h-2.5zM269.75 268.75h2.5v2.5h-2.5zM269.75 272.75h2.5v2.5h-2.5zM269.75 278.75h2.5v2.5h-2.5zM269.75 286.75h2.5v2.5h-2.5zM269.75 288.75h2.5v2.5h-2.5zM269.75 304.75h2.5v2.5h-2.5zM269.75 306.75h2.5v2.5h-2.5zM269.75 326.75h2.5v2.5h-2.5zM269.75 330.75h2.5v2.5h-2.5zM269.75 378.75h2.5v2.5h-2.5zM269.75 440.75h2.5v2.5h-2.5zM269.75 444.75h2.5v2.5h-2.5zM271.75 202.75h2.5v2.5h-2.5zM271.75 206.75h2.5v2.5h-2.5zM271.75 208.75h2.5v2.5h-2.5zM271.75 210.75h2.5v2.5h-2.5zM271.75 212.75h2.5v2.5h-2.5zM271.75 216.75h2.5v2.5h-2.5zM271.75 218.75h2.5v2.5h-2.5zM271.75 222.75h2.5v2.5h-2.5zM271.75 224.75h2.5v2.5h-2.5zM271.75 228.75h2.5v2.5h-2.5zM271.75 232.75h2.5v2.5h-2.5zM271.75 234.75h2.5v2.5h-2.5zM271.75 238.75h2.5v2.5h-2.5zM271.75 240.75h2.5v2.5h-2.5zM271.75 242.75h2.5v2.5h-2.5zM271.75 244.75h2.5v2.5h-2.5zM271.75 246.75h2.5v2.5h-2.5zM271.75 248.75h2.5v2.5h-2.5zM271.75 254.75h2.5v2.5h-2.5zM271.75 264.75h2.5v2.5h-2.5zM271.75 266.75h2.5v2.5h-2.5zM271.75 270.75h2.5v2.5h-2.5zM271.75 272.75h2.5v2.5h-2.5zM271.75 276.75h2.5v2.5h-2.5zM271.75 282.75h2.5v2.5h-2.5zM271.75 288.75h2.5v2.5h-2.5zM271.75 298.75h2.5v2.5h-2.5zM271.75 316.75h2.5v2.5h-2.5zM271.75 336.75h2.5v2.5h-2.5zM271.75 346.75h2.5v2.5h-2.5zM271.75 406.75h2.5v2.5h-2.5zM271.75 420.75h2.5v2.5h-2.5zM271.75 444.75h2.5v2.5h-2.5zM271.75 474.75h2.5v2.5h-2.5zM271.75 488.75h2.5v2.5h-2.5zM273.75 202.75h2.5v2.5h-2.5zM273.75 208.75h2.5v2.5h-2.5zM273.75 220.75h2.5v2.5h-2.5zM273.75 224.75h2.5v2.5h-2.5zM273.75 234.75h2.5v2.5h-2.5zM273.75 238.75h2.5v2.5h-2.5zM273.75 250.75h2.5v2.5h-2.5zM273.75 262.75h2.5v2.5h-2.5zM273.75 264.75h2.5v2.5h-2.5zM273.75 270.75h2.5v2.5h-2.5zM273.75 272.75h2.5v2.5h-2.5zM273.75 280.75h2.5v2.5h-2.5zM273.75 286.75h2.5v2.5h-2.5zM273.75 292.75h2.5v2.5h-2.5zM273.75 296.75h2.5v2.5h-2.5zM273.75 298.75h2.5v2.5h-2.5zM273.75 322.75h2.5v2.5h-2.5zM273.75 396.75h2.5v2.5h-2.5zM273.75 398.75h2.5v2.5h-2.5zM273.75 408.75h2.5v2.5h-2.5zM273.75 414.75h2.5v2.5h-2.5zM273.75 416.75h2.5v2.5h-2.5zM273.75 424.75h2.5v2.5h-2.5zM273.75 438.75h2.5v2.5h-2.5zM273.75 446.75h2.5v2.5h-2.5zM273.75 466.75h2.5v2.5h-2.5zM273.75 470.75h2.5v2.5h-2.5zM273.75 482.75h2.5v2.5h-2.5zM275.75 190.75h2.5v2.5h-2.5zM275.75 204.75h2.5v2.5h-2.5zM275.75 214.75h2.5v2.5h-2.5zM275.75 218.75h2.5v2.5h-2.5zM275.75 224.75h2.5v2.5h-2.5zM275.75 232.75h2.5v2.5h-2.5zM275.75 236.75h2.5v2.5h-2.5zM275.75 248.75h2.5v2.5h-2.5zM275.75 250.75h2.5v2.5h-2.5zM275.75 256.75h2.5v2.5h-2.5zM275.75 276.75h2.5v2.5h-2.5zM275.75 310.75h2.5v2.5h-2.5zM275.75 332.75h2.5v2.5h-2.5zM275.75 344.75h2.5v2.5h-2.5zM275.75 354.75h2.5v2.5h-2.5zM275.75 382.75h2.5v2.5h-2.5zM275.75 406.75h2.5v2.5h-2.5zM275.75 410.75h2.5v2.5h-2.5zM275.75 418.75h2.5v2.5h-2.5zM275.75 426.75h2.5v2.5h-2.5zM275.75 450.75h2.5v2.5h-2.5zM275.75 452.75h2.5v2.5h-2.5zM275.75 484.75h2.5v2.5h-2.5zM275.75 512.75h2.5v2.5h-2.5zM277.75 202.75h2.5v2.5h-2.5zM277.75 210.75h2.5v2.5h-2.5zM277.75 240.75h2.5v2.5h-2.5zM277.75 246.75h2.5v2.5h-2.5zM277.75 252.75h2.5v2.5h-2.5zM277.75 254.75h2.5v2.5h-2.5zM277.75 300.75h2.5v2.5h-2.5zM277.75 360.75h2.5v2.5h-2.5zM277.75 402.75h2.5v2.5h-2.5zM277.75 404.75h2.5v2.5h-2.5zM277.75 418.75h2.5v2.5h-2.5zM277.75 420.75h2.5v2.5h-2.5zM277.75 498.75h2.5v2.5h-2.5zM279.75 188.75h2.5v2.5h-2.5zM279.75 210.75h2.5v2.5h-2.5zM279.75 212.75h2.5v2.5h-2.5zM279.75 216.75h2.5v2.5h-2.5zM279.75 218.75h2.5v2.5h-2.5zM279.75 220.75h2.5v2.5h-2.5zM279.75 230.75h2.5v2.5h-2.5zM279.75 232.75h2.5v2.5h-2.5zM279.75 234.75h2.5v2.5h-2.5zM279.75 238.75h2.5v2.5h-2.5zM279.75 244.75h2.5v2.5h-2.5zM279.75 248.75h2.5v2.5h-2.5zM279.75 254.75h2.5v2.5h-2.5zM279.75 274.75h2.5v2.5h-2.5zM279.75 276.75h2.5v2.5h-2.5zM279.75 292.75h2.5v2.5h-2.5zM279.75 296.75h2.5v2.5h-2.5zM279.75 308.75h2.5v2.5h-2.5zM279.75 322.75h2.5v2.5h-2.5zM279.75 366.75h2.5v2.5h-2.5zM279.75 406.75h2.5v2.5h-2.5zM279.75 412.75h2.5v2.5h-2.5zM279.75 420.75h2.5v2.5h-2.5zM279.75 430.75h2.5v2.5h-2.5zM279.75 436.75h2.5v2.5h-2.5zM279.75 440.75h2.5v2.5h-2.5zM279.75 446.75h2.5v2.5h-2.5zM279.75 458.75h2.5v2.5h-2.5zM279.75 464.75h2.5v2.5h-2.5zM279.75 484.75h2.5v2.5h-2.5zM281.75 202.75h2.5v2.5h-2.5zM281.75 218.75h2.5v2.5h-2.5zM281.75 220.75h2.5v2.5h-2.5zM281.75 222.75h2.5v2.5h-2.5zM281.75 224.75h2.5v2.5h-2.5zM281.75 226.75h2.5v2.5h-2.5zM281.75 228.75h2.5v2.5h-2.5zM281.75 234.75h2.5v2.5h-2.5zM281.75 240.75h2.5v2.5h-2.5zM281.75 246.75h2.5v2.5h-2.5zM281.75 254.75h2.5v2.5h-2.5zM281.75 260.75h2.5v2.5h-2.5zM281.75 384.75h2.5v2.5h-2.5zM281.75 406.75h2.5v2.5h-2.5zM281.75 418.75h2.5v2.5h-2.5zM281.75 426.75h2.5v2.5h-2.5zM281.75 452.75h2.5v2.5h-2.5zM283.75 168.75h2.5v2.5h-2.5zM283.75 198.75h2.5v2.5h-2.5zM283.75 200.75h2.5v2.5h-2.5zM283.75 224.75h2.5v2.5h-2.5zM283.75 228.75h2.5v2.5h-2.5zM283.75 246.75h2.5v2.5h-2.5zM283.75 248.75h2.5v2.5h-2.5zM283.75 308.75h2.5v2.5h-2.5zM283.75 312.75h2.5v2.5h-2.5zM283.75 324.75h2.5v2.5h-2.5zM283.75 376.75h2.5v2.5h-2.5zM283.75 380.75h2.5v2.5h-2.5zM283.75 396.75h2.5v2.5h-2.5zM283.75 410.75h2.5v2.5h-2.5zM283.75 422.75h2.5v2.5h-2.5zM283.75 428.75h2.5v2.5h-2.5zM285.75 216.75h2.5v2.5h-2.5zM285.75 218.75h2.5v2.5h-2.5zM285.75 232.75h2.5v2.5h-2.5zM285.75 276.75h2.5v2.5h-2.5zM285.75 410.75h2.5v2.5h-2.5zM285.75 474.75h2.5v2.5h-2.5zM287.75 208.75h2.5v2.5h-2.5zM287.75 242.75h2.5v2.5h-2.5zM287.75 266.75h2.5v2.5h-2.5zM287.75 270.75h2.5v2.5h-2.5zM287.75 290.75h2.5v2.5h-2.5zM287.75 416.75h2.5v2.5h-2.5zM287.75 424.75h2.5v2.5h-2.5zM287.75 438.75h2.5v2.5h-2.5zM287.75 440.75h2.5v2.5h-2.5zM287.75 472.75h2.5v2.5h-2.5zM287.75 476.75h2.5v2.5h-2.5zM287.75 504.75h2.5v2.5h-2.5zM289.75 194.75h2.5v2.5h-2.5zM289.75 238.75h2.5v2.5h-2.5zM289.75 292.75h2.5v2.5h-2.5zM289.75 380.75h2.5v2.5h-2.5zM291.75 214.75h2.5v2.5h-2.5zM291.75 438.75h2.5v2.5h-2.5zM291.75 454.75h2.5v2.5h-2.5zM291.75 466.75h2.5v2.5h-2.5zM291.75 478.75h2.5v2.5h-2.5zM293.75 206.75h2.5v2.5h-2.5zM293.75 282.75h2.5v2.5h-2.5zM293.75 324.75h2.5v2.5h-2.5zM293.75 332.75h2.5v2.5h-2.5zM293.75 394.75h2.5v2.5h-2.5zM293.75 396.75h2.5v2.5h-2.5zM293.75 402.75h2.5v2.5h-2.5zM295.75 190.75h2.5v2.5h-2.5zM295.75 212.75h2.5v2.5h-2.5zM295.75 214.75h2.5v2.5h-2.5zM295.75 224.75h2.5v2.5h-2.5zM295.75 294.75h2.5v2.5h-2.5zM295.75 396.75h2.5v2.5h-2.5zM295.75 406.75h2.5v2.5h-2.5zM295.75 414.75h2.5v2.5h-2.5zM295.75 420.75h2.5v2.5h-2.5zM295.75 476.75h2.5v2.5h-2.5zM297.75 158.75h2.5v2.5h-2.5zM297.75 490.75h2.5v2.5h-2.5zM299.75 340.75h2.5v2.5h-2.5zM299.75 420.75h2.5v2.5h-2.5zM301.75 212.75h2.5v2.5h-2.5zM301.75 220.75h2.5v2.5h-2.5zM301.75 450.75h2.5v2.5h-2.5zM303.75 370.75h2.5v2.5h-2.5zM305.75 236.75h2.5v2.5h-2.5zM305.75 458.75h2.5v2.5h-2.5zM307.75 268.75h2.5v2.5h-2.5zM307.75 400.75h2.5v2.5h-2.5zM307.75 444.75h2.5v2.5h-2.5zM309.75 200.75h2.5v2.5h-2.5zM309.75 208.75h2.5v2.5h-2.5zM311.75 334.75h2.5v2.5h-2.5zM311.75 396.75h2.5v2.5h-2.5zM311.75 416.75h2.5v2.5h-2.5zM313.75 368.75h2.5v2.5h-2.5zM313.75 432.75h2.5v2.5h-2.5zM315.75 190.75h2.5v2.5h-2.5zM315.75 312.75h2.5v2.5h-2.5zM315.75 322.75h2.5v2.5h-2.5zM317.75 242.75h2.5v2.5h-2.5zM327.75 192.75h2.5v2.5h-2.5zM327.75 486.75h2.5v2.5h-2.5zM331.75 420.75h2.5v2.5h-2.5zM333.75 492.75h2.5v2.5h-2.5zM335.75 454.75h2.5v2.5h-2.5zM335.75 464.75h2.5v2.5h-2.5zM339.75 472.75h2.5v2.5h-2.5zM340.75 276.75h2.5v2.5h-2.5zM340.75 340.75h2.5v2.5h-2.5zM345.75 534.75h2.5v2.5h-2.5zM347.75 508.75h2.5v2.5h-2.5zM349.75 287.75h2.5v2.5h-2.5zM349.75 462.75h2.5v2.5h-2.5zM351.75 438.75h2.5v2.5h-2.5zM353.75 474.75h2.5v2.5h-2.5zM353.75 484.75h2.5v2.5h-2.5zM355.75 482.75h2.5v2.5h-2.5zM355.75 498.75h2.5v2.5h-2.5zM355.75 532.75h2.5v2.5h-2.5zM357.75 434.75h2.5v2.5h-2.5zM357.75 460.75h2.5v2.5h-2.5zM357.75 470.75h2.5v2.5h-2.5zM357.75 526.75h2.5v2.5h-2.5zM359.75 442.75h2.5v2.5h-2.5zM359.75 458.75h2.5v2.5h-2.5zM359.75 464.75h2.5v2.5h-2.5zM359.75 496.75h2.5v2.5h-2.5zM361.75 414.75h2.5v2.5h-2.5zM361.75 440.75h2.5v2.5h-2.5zM363.75 466.75h2.5v2.5h-2.5zM363.75 474.75h2.5v2.5h-2.5zM363.75 484.75h2.5v2.5h-2.5zM365.75 456.75h2.5v2.5h-2.5zM365.75 458.75h2.5v2.5h-2.5zM367.75 346.75h2.5v2.5h-2.5zM367.75 436.75h2.5v2.5h-2.5zM367.75 448.75h2.5v2.5h-2.5zM367.75 450.75h2.5v2.5h-2.5zM367.75 458.75h2.5v2.5h-2.5zM367.75 468.75h2.5v2.5h-2.5zM367.75 536.75h2.5v2.5h-2.5zM369.75 386.75h2.5v2.5h-2.5zM369.75 456.75h2.5v2.5h-2.5zM369.75 490.75h2.5v2.5h-2.5zM369.75 504.75h2.5v2.5h-2.5zM371.75 440.75h2.5v2.5h-2.5zM371.75 458.75h2.5v2.5h-2.5zM371.75 470.75h2.5v2.5h-2.5zM371.75 474.75h2.5v2.5h-2.5zM371.75 482.75h2.5v2.5h-2.5zM371.75 498.75h2.5v2.5h-2.5zM372.75 236.75h2.5v2.5h-2.5zM373.75 408.75h2.5v2.5h-2.5zM373.75 432.75h2.5v2.5h-2.5zM373.75 444.75h2.5v2.5h-2.5zM373.75 452.75h2.5v2.5h-2.5zM373.75 456.75h2.5v2.5h-2.5zM373.75 480.75h2.5v2.5h-2.5zM373.75 494.75h2.5v2.5h-2.5zM375.75 422.75h2.5v2.5h-2.5zM375.75 434.75h2.5v2.5h-2.5zM375.75 436.75h2.5v2.5h-2.5zM375.75 446.75h2.5v2.5h-2.5zM375.75 450.75h2.5v2.5h-2.5zM375.75 458.75h2.5v2.5h-2.5zM375.75 464.75h2.5v2.5h-2.5zM375.75 478.75h2.5v2.5h-2.5zM375.75 492.75h2.5v2.5h-2.5zM375.75 504.75h2.5v2.5h-2.5zM375.75 532.75h2.5v2.5h-2.5zM377.75 414.75h2.5v2.5h-2.5zM377.75 428.75h2.5v2.5h-2.5zM377.75 456.75h2.5v2.5h-2.5zM377.75 478.75h2.5v2.5h-2.5zM377.75 490.75h2.5v2.5h-2.5zM378.75 276.75h2.5v2.5h-2.5zM379.75 442.75h2.5v2.5h-2.5zM379.75 444.75h2.5v2.5h-2.5zM379.75 446.75h2.5v2.5h-2.5zM379.75 448.75h2.5v2.5h-2.5zM379.75 450.75h2.5v2.5h-2.5zM379.75 452.75h2.5v2.5h-2.5zM379.75 470.75h2.5v2.5h-2.5zM379.75 478.75h2.5v2.5h-2.5zM379.75 482.75h2.5v2.5h-2.5zM379.75 488.75h2.5v2.5h-2.5zM379.75 492.75h2.5v2.5h-2.5zM379.75 504.75h2.5v2.5h-2.5zM380.75 330.75h2.5v2.5h-2.5zM381.75 432.75h2.5v2.5h-2.5zM381.75 438.75h2.5v2.5h-2.5zM381.75 446.75h2.5v2.5h-2.5zM381.75 448.75h2.5v2.5h-2.5zM381.75 456.75h2.5v2.5h-2.5zM381.75 462.75h2.5v2.5h-2.5zM381.75 466.75h2.5v2.5h-2.5zM381.75 488.75h2.5v2.5h-2.5zM381.75 498.75h2.5v2.5h-2.5zM383.75 348.75h2.5v2.5h-2.5zM383.75 400.75h2.5v2.5h-2.5zM383.75 416.75h2.5v2.5h-2.5zM383.75 420.75h2.5v2.5h-2.5zM383.75 438.75h2.5v2.5h-2.5zM383.75 476.75h2.5v2.5h-2.5zM383.75 486.75h2.5v2.5h-2.5zM385.75 416.75h2.5v2.5h-2.5zM385.75 454.75h2.5v2.5h-2.5zM385.75 458.75h2.5v2.5h-2.5zM385.75 460.75h2.5v2.5h-2.5zM385.75 464.75h2.5v2.5h-2.5zM385.75 466.75h2.5v2.5h-2.5zM385.75 470.75h2.5v2.5h-2.5zM385.75 476.75h2.5v2.5h-2.5zM385.75 482.75h2.5v2.5h-2.5zM385.75 484.75h2.5v2.5h-2.5zM385.75 490.75h2.5v2.5h-2.5zM385.75 496.75h2.5v2.5h-2.5zM385.75 512.75h2.5v2.5h-2.5zM385.75 514.75h2.5v2.5h-2.5zM387.75 332.75h2.5v2.5h-2.5zM387.75 380.75h2.5v2.5h-2.5zM387.75 392.75h2.5v2.5h-2.5zM387.75 412.75h2.5v2.5h-2.5zM387.75 420.75h2.5v2.5h-2.5zM387.75 424.75h2.5v2.5h-2.5zM387.75 430.75h2.5v2.5h-2.5zM387.75 432.75h2.5v2.5h-2.5zM387.75 440.75h2.5v2.5h-2.5zM387.75 446.75h2.5v2.5h-2.5zM387.75 454.75h2.5v2.5h-2.5zM387.75 462.75h2.5v2.5h-2.5zM387.75 468.75h2.5v2.5h-2.5zM387.75 472.75h2.5v2.5h-2.5zM387.75 510.75h2.5v2.5h-2.5zM387.75 516.75h2.5v2.5h-2.5zM389.75 394.75h2.5v2.5h-2.5zM389.75 400.75h2.5v2.5h-2.5zM389.75 410.75h2.5v2.5h-2.5zM389.75 412.75h2.5v2.5h-2.5zM389.75 422.75h2.5v2.5h-2.5zM389.75 434.75h2.5v2.5h-2.5zM389.75 436.75h2.5v2.5h-2.5zM389.75 440.75h2.5v2.5h-2.5zM389.75 446.75h2.5v2.5h-2.5zM389.75 450.75h2.5v2.5h-2.5zM389.75 452.75h2.5v2.5h-2.5zM389.75 462.75h2.5v2.5h-2.5zM389.75 464.75h2.5v2.5h-2.5zM389.75 466.75h2.5v2.5h-2.5zM389.75 468.75h2.5v2.5h-2.5zM389.75 474.75h2.5v2.5h-2.5zM389.75 476.75h2.5v2.5h-2.5zM389.75 502.75h2.5v2.5h-2.5zM389.75 510.75h2.5v2.5h-2.5zM391.75 422.75h2.5v2.5h-2.5zM391.75 424.75h2.5v2.5h-2.5zM391.75 426.75h2.5v2.5h-2.5zM391.75 430.75h2.5v2.5h-2.5zM391.75 432.75h2.5v2.5h-2.5zM391.75 434.75h2.5v2.5h-2.5zM391.75 436.75h2.5v2.5h-2.5zM391.75 438.75h2.5v2.5h-2.5zM391.75 440.75h2.5v2.5h-2.5zM391.75 454.75h2.5v2.5h-2.5zM391.75 458.75h2.5v2.5h-2.5zM391.75 462.75h2.5v2.5h-2.5zM391.75 464.75h2.5v2.5h-2.5zM391.75 468.75h2.5v2.5h-2.5zM391.75 482.75h2.5v2.5h-2.5zM391.75 522.75h2.5v2.5h-2.5zM391.75 534.75h2.5v2.5h-2.5zM393.75 400.75h2.5v2.5h-2.5zM393.75 402.75h2.5v2.5h-2.5zM393.75 404.75h2.5v2.5h-2.5zM393.75 416.75h2.5v2.5h-2.5zM393.75 420.75h2.5v2.5h-2.5zM393.75 426.75h2.5v2.5h-2.5zM393.75 432.75h2.5v2.5h-2.5zM393.75 434.75h2.5v2.5h-2.5zM393.75 436.75h2.5v2.5h-2.5zM393.75 440.75h2.5v2.5h-2.5zM393.75 442.75h2.5v2.5h-2.5zM393.75 446.75h2.5v2.5h-2.5zM393.75 450.75h2.5v2.5h-2.5zM393.75 458.75h2.5v2.5h-2.5zM393.75 460.75h2.5v2.5h-2.5zM393.75 462.75h2.5v2.5h-2.5zM393.75 466.75h2.5v2.5h-2.5zM393.75 468.75h2.5v2.5h-2.5zM393.75 470.75h2.5v2.5h-2.5zM393.75 476.75h2.5v2.5h-2.5zM393.75 488.75h2.5v2.5h-2.5zM393.75 492.75h2.5v2.5h-2.5zM393.75 494.75h2.5v2.5h-2.5zM393.75 496.75h2.5v2.5h-2.5zM393.75 504.75h2.5v2.5h-2.5zM393.75 506.75h2.5v2.5h-2.5zM394.75 197.75h2.5v2.5h-2.5zM394.75 338.75h2.5v2.5h-2.5zM395.75 380.75h2.5v2.5h-2.5zM395.75 404.75h2.5v2.5h-2.5zM395.75 408.75h2.5v2.5h-2.5zM395.75 410.75h2.5v2.5h-2.5zM395.75 414.75h2.5v2.5h-2.5zM395.75 418.75h2.5v2.5h-2.5zM395.75 420.75h2.5v2.5h-2.5zM395.75 422.75h2.5v2.5h-2.5zM395.75 426.75h2.5v2.5h-2.5zM395.75 428.75h2.5v2.5h-2.5zM395.75 434.75h2.5v2.5h-2.5zM395.75 446.75h2.5v2.5h-2.5zM395.75 452.75h2.5v2.5h-2.5zM395.75 454.75h2.5v2.5h-2.5zM395.75 456.75h2.5v2.5h-2.5zM395.75 458.75h2.5v2.5h-2.5zM395.75 460.75h2.5v2.5h-2.5zM395.75 466.75h2.5v2.5h-2.5zM395.75 474.75h2.5v2.5h-2.5zM395.75 476.75h2.5v2.5h-2.5zM395.75 478.75h2.5v2.5h-2.5zM395.75 482.75h2.5v2.5h-2.5zM395.75 488.75h2.5v2.5h-2.5zM395.75 494.75h2.5v2.5h-2.5zM395.75 496.75h2.5v2.5h-2.5zM395.75 502.75h2.5v2.5h-2.5zM395.75 506.75h2.5v2.5h-2.5zM395.75 510.75h2.5v2.5h-2.5zM395.75 518.75h2.5v2.5h-2.5zM395.75 564.75h2.5v2.5h-2.5zM396.75 189.75h2.5v2.5h-2.5zM397.75 400.75h2.5v2.5h-2.5zM397.75 408.75h2.5v2.5h-2.5zM397.75 414.75h2.5v2.5h-2.5zM397.75 420.75h2.5v2.5h-2.5zM397.75 424.75h2.5v2.5h-2.5zM397.75 426.75h2.5v2.5h-2.5zM397.75 432.75h2.5v2.5h-2.5zM397.75 438.75h2.5v2.5h-2.5zM397.75 446.75h2.5v2.5h-2.5zM397.75 452.75h2.5v2.5h-2.5zM397.75 454.75h2.5v2.5h-2.5zM397.75 456.75h2.5v2.5h-2.5zM397.75 458.75h2.5v2.5h-2.5zM397.75 466.75h2.5v2.5h-2.5zM397.75 468.75h2.5v2.5h-2.5zM397.75 470.75h2.5v2.5h-2.5zM397.75 478.75h2.5v2.5h-2.5zM397.75 500.75h2.5v2.5h-2.5zM397.75 530.75h2.5v2.5h-2.5zM399.75 354.75h2.5v2.5h-2.5zM399.75 372.75h2.5v2.5h-2.5zM399.75 376.75h2.5v2.5h-2.5zM399.75 390.75h2.5v2.5h-2.5zM399.75 396.75h2.5v2.5h-2.5zM399.75 408.75h2.5v2.5h-2.5zM399.75 416.75h2.5v2.5h-2.5zM399.75 418.75h2.5v2.5h-2.5zM399.75 420.75h2.5v2.5h-2.5zM399.75 424.75h2.5v2.5h-2.5zM399.75 426.75h2.5v2.5h-2.5zM399.75 428.75h2.5v2.5h-2.5zM399.75 432.75h2.5v2.5h-2.5zM399.75 434.75h2.5v2.5h-2.5zM399.75 436.75h2.5v2.5h-2.5zM399.75 438.75h2.5v2.5h-2.5zM399.75 440.75h2.5v2.5h-2.5zM399.75 442.75h2.5v2.5h-2.5zM399.75 450.75h2.5v2.5h-2.5zM399.75 458.75h2.5v2.5h-2.5zM399.75 460.75h2.5v2.5h-2.5zM399.75 462.75h2.5v2.5h-2.5zM399.75 464.75h2.5v2.5h-2.5zM399.75 466.75h2.5v2.5h-2.5zM399.75 468.75h2.5v2.5h-2.5zM399.75 472.75h2.5v2.5h-2.5zM399.75 474.75h2.5v2.5h-2.5zM399.75 476.75h2.5v2.5h-2.5zM399.75 478.75h2.5v2.5h-2.5zM399.75 484.75h2.5v2.5h-2.5zM399.75 500.75h2.5v2.5h-2.5zM399.75 528.75h2.5v2.5h-2.5zM399.75 542.75h2.5v2.5h-2.5zM401.75 386.75h2.5v2.5h-2.5zM401.75 398.75h2.5v2.5h-2.5zM401.75 406.75h2.5v2.5h-2.5zM401.75 410.75h2.5v2.5h-2.5zM401.75 412.75h2.5v2.5h-2.5zM401.75 416.75h2.5v2.5h-2.5zM401.75 418.75h2.5v2.5h-2.5zM401.75 420.75h2.5v2.5h-2.5zM401.75 424.75h2.5v2.5h-2.5zM401.75 426.75h2.5v2.5h-2.5zM401.75 428.75h2.5v2.5h-2.5zM401.75 430.75h2.5v2.5h-2.5zM401.75 434.75h2.5v2.5h-2.5zM401.75 436.75h2.5v2.5h-2.5zM401.75 438.75h2.5v2.5h-2.5zM401.75 440.75h2.5v2.5h-2.5zM401.75 442.75h2.5v2.5h-2.5zM401.75 444.75h2.5v2.5h-2.5zM401.75 446.75h2.5v2.5h-2.5zM401.75 448.75h2.5v2.5h-2.5zM401.75 452.75h2.5v2.5h-2.5zM401.75 454.75h2.5v2.5h-2.5zM401.75 456.75h2.5v2.5h-2.5zM401.75 458.75h2.5v2.5h-2.5zM401.75 460.75h2.5v2.5h-2.5zM401.75 462.75h2.5v2.5h-2.5zM401.75 464.75h2.5v2.5h-2.5zM401.75 482.75h2.5v2.5h-2.5zM401.75 484.75h2.5v2.5h-2.5zM401.75 488.75h2.5v2.5h-2.5zM401.75 498.75h2.5v2.5h-2.5zM401.75 518.75h2.5v2.5h-2.5zM401.75 520.75h2.5v2.5h-2.5zM401.75 534.75h2.5v2.5h-2.5zM403.75 380.75h2.5v2.5h-2.5zM403.75 394.75h2.5v2.5h-2.5zM403.75 402.75h2.5v2.5h-2.5zM403.75 404.75h2.5v2.5h-2.5zM403.75 410.75h2.5v2.5h-2.5zM403.75 412.75h2.5v2.5h-2.5zM403.75 416.75h2.5v2.5h-2.5zM403.75 420.75h2.5v2.5h-2.5zM403.75 422.75h2.5v2.5h-2.5zM403.75 424.75h2.5v2.5h-2.5zM403.75 430.75h2.5v2.5h-2.5zM403.75 432.75h2.5v2.5h-2.5zM403.75 434.75h2.5v2.5h-2.5zM403.75 436.75h2.5v2.5h-2.5zM403.75 440.75h2.5v2.5h-2.5zM403.75 442.75h2.5v2.5h-2.5zM403.75 444.75h2.5v2.5h-2.5zM403.75 448.75h2.5v2.5h-2.5zM403.75 452.75h2.5v2.5h-2.5zM403.75 454.75h2.5v2.5h-2.5zM403.75 456.75h2.5v2.5h-2.5zM403.75 460.75h2.5v2.5h-2.5zM403.75 462.75h2.5v2.5h-2.5zM403.75 464.75h2.5v2.5h-2.5zM403.75 466.75h2.5v2.5h-2.5zM403.75 474.75h2.5v2.5h-2.5zM403.75 478.75h2.5v2.5h-2.5zM403.75 490.75h2.5v2.5h-2.5zM403.75 496.75h2.5v2.5h-2.5zM403.75 504.75h2.5v2.5h-2.5zM403.75 506.75h2.5v2.5h-2.5zM403.75 512.75h2.5v2.5h-2.5zM405.75 384.75h2.5v2.5h-2.5zM405.75 398.75h2.5v2.5h-2.5zM405.75 406.75h2.5v2.5h-2.5zM405.75 412.75h2.5v2.5h-2.5zM405.75 420.75h2.5v2.5h-2.5zM405.75 422.75h2.5v2.5h-2.5zM405.75 424.75h2.5v2.5h-2.5zM405.75 426.75h2.5v2.5h-2.5zM405.75 428.75h2.5v2.5h-2.5zM405.75 432.75h2.5v2.5h-2.5zM405.75 434.75h2.5v2.5h-2.5zM405.75 436.75h2.5v2.5h-2.5zM405.75 438.75h2.5v2.5h-2.5zM405.75 440.75h2.5v2.5h-2.5zM405.75 444.75h2.5v2.5h-2.5zM405.75 446.75h2.5v2.5h-2.5zM405.75 448.75h2.5v2.5h-2.5zM405.75 450.75h2.5v2.5h-2.5zM405.75 452.75h2.5v2.5h-2.5zM405.75 454.75h2.5v2.5h-2.5zM405.75 456.75h2.5v2.5h-2.5zM405.75 458.75h2.5v2.5h-2.5zM405.75 460.75h2.5v2.5h-2.5zM405.75 462.75h2.5v2.5h-2.5zM405.75 464.75h2.5v2.5h-2.5zM405.75 472.75h2.5v2.5h-2.5zM405.75 474.75h2.5v2.5h-2.5zM405.75 478.75h2.5v2.5h-2.5zM405.75 490.75h2.5v2.5h-2.5zM405.75 494.75h2.5v2.5h-2.5zM405.75 496.75h2.5v2.5h-2.5zM405.75 498.75h2.5v2.5h-2.5zM405.75 504.75h2.5v2.5h-2.5zM405.75 506.75h2.5v2.5h-2.5zM405.75 510.75h2.5v2.5h-2.5zM405.75 520.75h2.5v2.5h-2.5zM407.75 358.75h2.5v2.5h-2.5zM407.75 384.75h2.5v2.5h-2.5zM407.75 386.75h2.5v2.5h-2.5zM407.75 406.75h2.5v2.5h-2.5zM407.75 410.75h2.5v2.5h-2.5zM407.75 414.75h2.5v2.5h-2.5zM407.75 418.75h2.5v2.5h-2.5zM407.75 420.75h2.5v2.5h-2.5zM407.75 422.75h2.5v2.5h-2.5zM407.75 426.75h2.5v2.5h-2.5zM407.75 428.75h2.5v2.5h-2.5zM407.75 430.75h2.5v2.5h-2.5zM407.75 434.75h2.5v2.5h-2.5zM407.75 436.75h2.5v2.5h-2.5zM407.75 438.75h2.5v2.5h-2.5zM407.75 442.75h2.5v2.5h-2.5zM407.75 444.75h2.5v2.5h-2.5zM407.75 446.75h2.5v2.5h-2.5zM407.75 448.75h2.5v2.5h-2.5zM407.75 452.75h2.5v2.5h-2.5zM407.75 454.75h2.5v2.5h-2.5zM407.75 456.75h2.5v2.5h-2.5zM407.75 458.75h2.5v2.5h-2.5zM407.75 460.75h2.5v2.5h-2.5zM407.75 462.75h2.5v2.5h-2.5zM407.75 464.75h2.5v2.5h-2.5zM407.75 468.75h2.5v2.5h-2.5zM407.75 482.75h2.5v2.5h-2.5zM407.75 486.75h2.5v2.5h-2.5zM407.75 492.75h2.5v2.5h-2.5zM407.75 504.75h2.5v2.5h-2.5zM407.75 508.75h2.5v2.5h-2.5zM409.75 406.75h2.5v2.5h-2.5zM409.75 410.75h2.5v2.5h-2.5zM409.75 416.75h2.5v2.5h-2.5zM409.75 420.75h2.5v2.5h-2.5zM409.75 422.75h2.5v2.5h-2.5zM409.75 424.75h2.5v2.5h-2.5zM409.75 426.75h2.5v2.5h-2.5zM409.75 428.75h2.5v2.5h-2.5zM409.75 430.75h2.5v2.5h-2.5zM409.75 432.75h2.5v2.5h-2.5zM409.75 434.75h2.5v2.5h-2.5zM409.75 436.75h2.5v2.5h-2.5zM409.75 438.75h2.5v2.5h-2.5zM409.75 440.75h2.5v2.5h-2.5zM409.75 442.75h2.5v2.5h-2.5zM409.75 444.75h2.5v2.5h-2.5zM409.75 446.75h2.5v2.5h-2.5zM409.75 448.75h2.5v2.5h-2.5zM409.75 450.75h2.5v2.5h-2.5zM409.75 452.75h2.5v2.5h-2.5zM409.75 454.75h2.5v2.5h-2.5zM409.75 456.75h2.5v2.5h-2.5zM409.75 460.75h2.5v2.5h-2.5zM409.75 462.75h2.5v2.5h-2.5zM409.75 464.75h2.5v2.5h-2.5zM409.75 466.75h2.5v2.5h-2.5zM409.75 468.75h2.5v2.5h-2.5zM409.75 470.75h2.5v2.5h-2.5zM409.75 472.75h2.5v2.5h-2.5zM409.75 474.75h2.5v2.5h-2.5zM409.75 478.75h2.5v2.5h-2.5zM409.75 482.75h2.5v2.5h-2.5zM409.75 484.75h2.5v2.5h-2.5zM409.75 486.75h2.5v2.5h-2.5zM409.75 496.75h2.5v2.5h-2.5zM409.75 506.75h2.5v2.5h-2.5zM410.75 285.75h2.5v2.5h-2.5zM410.75 289.75h2.5v2.5h-2.5zM411.75 396.75h2.5v2.5h-2.5zM411.75 400.75h2.5v2.5h-2.5zM411.75 402.75h2.5v2.5h-2.5zM411.75 406.75h2.5v2.5h-2.5zM411.75 414.75h2.5v2.5h-2.5zM411.75 420.75h2.5v2.5h-2.5zM411.75 422.75h2.5v2.5h-2.5zM411.75 426.75h2.5v2.5h-2.5zM411.75 428.75h2.5v2.5h-2.5zM411.75 430.75h2.5v2.5h-2.5zM411.75 432.75h2.5v2.5h-2.5zM411.75 434.75h2.5v2.5h-2.5zM411.75 436.75h2.5v2.5h-2.5zM411.75 438.75h2.5v2.5h-2.5zM411.75 440.75h2.5v2.5h-2.5zM411.75 444.75h2.5v2.5h-2.5zM411.75 446.75h2.5v2.5h-2.5zM411.75 448.75h2.5v2.5h-2.5zM411.75 450.75h2.5v2.5h-2.5zM411.75 452.75h2.5v2.5h-2.5zM411.75 456.75h2.5v2.5h-2.5zM411.75 460.75h2.5v2.5h-2.5zM411.75 464.75h2.5v2.5h-2.5zM411.75 466.75h2.5v2.5h-2.5zM411.75 468.75h2.5v2.5h-2.5zM411.75 470.75h2.5v2.5h-2.5zM411.75 472.75h2.5v2.5h-2.5zM411.75 478.75h2.5v2.5h-2.5zM411.75 480.75h2.5v2.5h-2.5zM411.75 490.75h2.5v2.5h-2.5zM411.75 494.75h2.5v2.5h-2.5zM411.75 496.75h2.5v2.5h-2.5zM411.75 498.75h2.5v2.5h-2.5zM411.75 506.75h2.5v2.5h-2.5zM411.75 512.75h2.5v2.5h-2.5zM411.75 550.75h2.5v2.5h-2.5zM412.75 338.75h2.5v2.5h-2.5zM413.75 350.75h2.5v2.5h-2.5zM413.75 394.75h2.5v2.5h-2.5zM413.75 410.75h2.5v2.5h-2.5zM413.75 416.75h2.5v2.5h-2.5zM413.75 420.75h2.5v2.5h-2.5zM413.75 422.75h2.5v2.5h-2.5zM413.75 424.75h2.5v2.5h-2.5zM413.75 426.75h2.5v2.5h-2.5zM413.75 428.75h2.5v2.5h-2.5zM413.75 430.75h2.5v2.5h-2.5zM413.75 434.75h2.5v2.5h-2.5zM413.75 436.75h2.5v2.5h-2.5zM413.75 438.75h2.5v2.5h-2.5zM413.75 440.75h2.5v2.5h-2.5zM413.75 442.75h2.5v2.5h-2.5zM413.75 444.75h2.5v2.5h-2.5zM413.75 446.75h2.5v2.5h-2.5zM413.75 448.75h2.5v2.5h-2.5zM413.75 450.75h2.5v2.5h-2.5zM413.75 452.75h2.5v2.5h-2.5zM413.75 454.75h2.5v2.5h-2.5zM413.75 456.75h2.5v2.5h-2.5zM413.75 458.75h2.5v2.5h-2.5zM413.75 462.75h2.5v2.5h-2.5zM413.75 464.75h2.5v2.5h-2.5zM413.75 468.75h2.5v2.5h-2.5zM413.75 470.75h2.5v2.5h-2.5zM413.75 472.75h2.5v2.5h-2.5zM413.75 474.75h2.5v2.5h-2.5zM413.75 476.75h2.5v2.5h-2.5zM413.75 478.75h2.5v2.5h-2.5zM413.75 482.75h2.5v2.5h-2.5zM413.75 484.75h2.5v2.5h-2.5zM413.75 506.75h2.5v2.5h-2.5zM415.75 396.75h2.5v2.5h-2.5zM415.75 400.75h2.5v2.5h-2.5zM415.75 402.75h2.5v2.5h-2.5zM415.75 404.75h2.5v2.5h-2.5zM415.75 412.75h2.5v2.5h-2.5zM415.75 414.75h2.5v2.5h-2.5zM415.75 416.75h2.5v2.5h-2.5zM415.75 418.75h2.5v2.5h-2.5zM415.75 420.75h2.5v2.5h-2.5zM415.75 424.75h2.5v2.5h-2.5zM415.75 426.75h2.5v2.5h-2.5zM415.75 428.75h2.5v2.5h-2.5zM415.75 430.75h2.5v2.5h-2.5zM415.75 432.75h2.5v2.5h-2.5zM415.75 434.75h2.5v2.5h-2.5zM415.75 436.75h2.5v2.5h-2.5zM415.75 438.75h2.5v2.5h-2.5zM415.75 442.75h2.5v2.5h-2.5zM415.75 444.75h2.5v2.5h-2.5zM415.75 446.75h2.5v2.5h-2.5zM415.75 448.75h2.5v2.5h-2.5zM415.75 450.75h2.5v2.5h-2.5zM415.75 452.75h2.5v2.5h-2.5zM415.75 454.75h2.5v2.5h-2.5zM415.75 458.75h2.5v2.5h-2.5zM415.75 460.75h2.5v2.5h-2.5zM415.75 468.75h2.5v2.5h-2.5zM415.75 470.75h2.5v2.5h-2.5zM415.75 476.75h2.5v2.5h-2.5zM415.75 482.75h2.5v2.5h-2.5zM415.75 496.75h2.5v2.5h-2.5zM415.75 508.75h2.5v2.5h-2.5zM415.75 518.75h2.5v2.5h-2.5zM415.75 522.75h2.5v2.5h-2.5zM417.75 352.75h2.5v2.5h-2.5zM417.75 392.75h2.5v2.5h-2.5zM417.75 400.75h2.5v2.5h-2.5zM417.75 408.75h2.5v2.5h-2.5zM417.75 412.75h2.5v2.5h-2.5zM417.75 414.75h2.5v2.5h-2.5zM417.75 424.75h2.5v2.5h-2.5zM417.75 428.75h2.5v2.5h-2.5zM417.75 430.75h2.5v2.5h-2.5zM417.75 432.75h2.5v2.5h-2.5zM417.75 434.75h2.5v2.5h-2.5zM417.75 436.75h2.5v2.5h-2.5zM417.75 440.75h2.5v2.5h-2.5zM417.75 442.75h2.5v2.5h-2.5zM417.75 444.75h2.5v2.5h-2.5zM417.75 446.75h2.5v2.5h-2.5zM417.75 448.75h2.5v2.5h-2.5zM417.75 450.75h2.5v2.5h-2.5zM417.75 452.75h2.5v2.5h-2.5zM417.75 456.75h2.5v2.5h-2.5zM417.75 458.75h2.5v2.5h-2.5zM417.75 462.75h2.5v2.5h-2.5zM417.75 466.75h2.5v2.5h-2.5zM417.75 472.75h2.5v2.5h-2.5zM417.75 474.75h2.5v2.5h-2.5zM417.75 478.75h2.5v2.5h-2.5zM417.75 482.75h2.5v2.5h-2.5zM419.75 336.75h2.5v2.5h-2.5zM419.75 345.75h2.5v2.5h-2.5zM419.75 390.75h2.5v2.5h-2.5zM419.75 392.75h2.5v2.5h-2.5zM419.75 394.75h2.5v2.5h-2.5zM419.75 398.75h2.5v2.5h-2.5zM419.75 400.75h2.5v2.5h-2.5zM419.75 402.75h2.5v2.5h-2.5zM419.75 408.75h2.5v2.5h-2.5zM419.75 410.75h2.5v2.5h-2.5zM419.75 412.75h2.5v2.5h-2.5zM419.75 414.75h2.5v2.5h-2.5zM419.75 416.75h2.5v2.5h-2.5zM419.75 418.75h2.5v2.5h-2.5zM419.75 422.75h2.5v2.5h-2.5zM419.75 424.75h2.5v2.5h-2.5zM419.75 426.75h2.5v2.5h-2.5zM419.75 428.75h2.5v2.5h-2.5zM419.75 430.75h2.5v2.5h-2.5zM419.75 432.75h2.5v2.5h-2.5zM419.75 434.75h2.5v2.5h-2.5zM419.75 436.75h2.5v2.5h-2.5zM419.75 438.75h2.5v2.5h-2.5zM419.75 440.75h2.5v2.5h-2.5zM419.75 442.75h2.5v2.5h-2.5zM419.75 444.75h2.5v2.5h-2.5zM419.75 446.75h2.5v2.5h-2.5zM419.75 448.75h2.5v2.5h-2.5zM419.75 450.75h2.5v2.5h-2.5zM419.75 452.75h2.5v2.5h-2.5zM419.75 454.75h2.5v2.5h-2.5zM419.75 458.75h2.5v2.5h-2.5zM419.75 462.75h2.5v2.5h-2.5zM419.75 464.75h2.5v2.5h-2.5zM419.75 468.75h2.5v2.5h-2.5zM419.75 474.75h2.5v2.5h-2.5zM419.75 476.75h2.5v2.5h-2.5zM419.75 482.75h2.5v2.5h-2.5zM419.75 486.75h2.5v2.5h-2.5zM419.75 508.75h2.5v2.5h-2.5zM421.75 330.75h2.5v2.5h-2.5zM421.75 400.75h2.5v2.5h-2.5zM421.75 408.75h2.5v2.5h-2.5zM421.75 414.75h2.5v2.5h-2.5zM421.75 418.75h2.5v2.5h-2.5zM421.75 422.75h2.5v2.5h-2.5zM421.75 424.75h2.5v2.5h-2.5zM421.75 426.75h2.5v2.5h-2.5zM421.75 428.75h2.5v2.5h-2.5zM421.75 430.75h2.5v2.5h-2.5zM421.75 432.75h2.5v2.5h-2.5zM421.75 434.75h2.5v2.5h-2.5zM421.75 436.75h2.5v2.5h-2.5zM421.75 438.75h2.5v2.5h-2.5zM421.75 440.75h2.5v2.5h-2.5zM421.75 442.75h2.5v2.5h-2.5zM421.75 444.75h2.5v2.5h-2.5zM421.75 446.75h2.5v2.5h-2.5zM421.75 448.75h2.5v2.5h-2.5zM421.75 450.75h2.5v2.5h-2.5zM421.75 452.75h2.5v2.5h-2.5zM421.75 454.75h2.5v2.5h-2.5zM421.75 456.75h2.5v2.5h-2.5zM421.75 462.75h2.5v2.5h-2.5zM421.75 468.75h2.5v2.5h-2.5zM421.75 474.75h2.5v2.5h-2.5zM421.75 476.75h2.5v2.5h-2.5zM421.75 478.75h2.5v2.5h-2.5zM421.75 482.75h2.5v2.5h-2.5zM421.75 488.75h2.5v2.5h-2.5zM421.75 498.75h2.5v2.5h-2.5zM421.75 508.75h2.5v2.5h-2.5zM421.75 512.75h2.5v2.5h-2.5zM421.75 518.75h2.5v2.5h-2.5zM421.75 520.75h2.5v2.5h-2.5zM421.75 526.75h2.5v2.5h-2.5zM421.75 544.75h2.5v2.5h-2.5zM423.75 372.75h2.5v2.5h-2.5zM423.75 394.75h2.5v2.5h-2.5zM423.75 402.75h2.5v2.5h-2.5zM423.75 404.75h2.5v2.5h-2.5zM423.75 406.75h2.5v2.5h-2.5zM423.75 410.75h2.5v2.5h-2.5zM423.75 412.75h2.5v2.5h-2.5zM423.75 414.75h2.5v2.5h-2.5zM423.75 418.75h2.5v2.5h-2.5zM423.75 422.75h2.5v2.5h-2.5zM423.75 424.75h2.5v2.5h-2.5zM423.75 426.75h2.5v2.5h-2.5zM423.75 428.75h2.5v2.5h-2.5zM423.75 430.75h2.5v2.5h-2.5zM423.75 432.75h2.5v2.5h-2.5zM423.75 436.75h2.5v2.5h-2.5zM423.75 440.75h2.5v2.5h-2.5zM423.75 444.75h2.5v2.5h-2.5zM423.75 446.75h2.5v2.5h-2.5zM423.75 448.75h2.5v2.5h-2.5zM423.75 452.75h2.5v2.5h-2.5zM423.75 454.75h2.5v2.5h-2.5zM423.75 458.75h2.5v2.5h-2.5zM423.75 460.75h2.5v2.5h-2.5zM423.75 462.75h2.5v2.5h-2.5zM423.75 464.75h2.5v2.5h-2.5zM423.75 470.75h2.5v2.5h-2.5zM423.75 472.75h2.5v2.5h-2.5zM423.75 474.75h2.5v2.5h-2.5zM423.75 478.75h2.5v2.5h-2.5zM423.75 480.75h2.5v2.5h-2.5zM423.75 482.75h2.5v2.5h-2.5zM423.75 484.75h2.5v2.5h-2.5zM423.75 486.75h2.5v2.5h-2.5zM423.75 494.75h2.5v2.5h-2.5zM425.75 347.75h2.5v2.5h-2.5zM425.75 366.75h2.5v2.5h-2.5zM425.75 370.75h2.5v2.5h-2.5zM425.75 396.75h2.5v2.5h-2.5zM425.75 398.75h2.5v2.5h-2.5zM425.75 406.75h2.5v2.5h-2.5zM425.75 408.75h2.5v2.5h-2.5zM425.75 410.75h2.5v2.5h-2.5zM425.75 412.75h2.5v2.5h-2.5zM425.75 414.75h2.5v2.5h-2.5zM425.75 416.75h2.5v2.5h-2.5zM425.75 418.75h2.5v2.5h-2.5zM425.75 420.75h2.5v2.5h-2.5zM425.75 422.75h2.5v2.5h-2.5zM425.75 424.75h2.5v2.5h-2.5zM425.75 426.75h2.5v2.5h-2.5zM425.75 428.75h2.5v2.5h-2.5zM425.75 430.75h2.5v2.5h-2.5zM425.75 432.75h2.5v2.5h-2.5zM425.75 434.75h2.5v2.5h-2.5zM425.75 436.75h2.5v2.5h-2.5zM425.75 438.75h2.5v2.5h-2.5zM425.75 440.75h2.5v2.5h-2.5zM425.75 442.75h2.5v2.5h-2.5zM425.75 444.75h2.5v2.5h-2.5zM425.75 446.75h2.5v2.5h-2.5zM425.75 448.75h2.5v2.5h-2.5zM425.75 450.75h2.5v2.5h-2.5zM425.75 454.75h2.5v2.5h-2.5zM425.75 456.75h2.5v2.5h-2.5zM425.75 458.75h2.5v2.5h-2.5zM425.75 460.75h2.5v2.5h-2.5zM425.75 464.75h2.5v2.5h-2.5zM425.75 472.75h2.5v2.5h-2.5zM425.75 476.75h2.5v2.5h-2.5zM425.75 482.75h2.5v2.5h-2.5zM425.75 484.75h2.5v2.5h-2.5zM425.75 496.75h2.5v2.5h-2.5zM425.75 500.75h2.5v2.5h-2.5zM425.75 508.75h2.5v2.5h-2.5zM425.75 522.75h2.5v2.5h-2.5zM427.75 352.75h2.5v2.5h-2.5zM427.75 364.75h2.5v2.5h-2.5zM427.75 372.75h2.5v2.5h-2.5zM427.75 384.75h2.5v2.5h-2.5zM427.75 388.75h2.5v2.5h-2.5zM427.75 396.75h2.5v2.5h-2.5zM427.75 398.75h2.5v2.5h-2.5zM427.75 400.75h2.5v2.5h-2.5zM427.75 404.75h2.5v2.5h-2.5zM427.75 408.75h2.5v2.5h-2.5zM427.75 410.75h2.5v2.5h-2.5zM427.75 414.75h2.5v2.5h-2.5zM427.75 416.75h2.5v2.5h-2.5zM427.75 418.75h2.5v2.5h-2.5zM427.75 420.75h2.5v2.5h-2.5zM427.75 422.75h2.5v2.5h-2.5zM427.75 424.75h2.5v2.5h-2.5zM427.75 426.75h2.5v2.5h-2.5zM427.75 428.75h2.5v2.5h-2.5zM427.75 430.75h2.5v2.5h-2.5zM427.75 432.75h2.5v2.5h-2.5zM427.75 434.75h2.5v2.5h-2.5zM427.75 438.75h2.5v2.5h-2.5zM427.75 440.75h2.5v2.5h-2.5zM427.75 442.75h2.5v2.5h-2.5zM427.75 444.75h2.5v2.5h-2.5zM427.75 446.75h2.5v2.5h-2.5zM427.75 448.75h2.5v2.5h-2.5zM427.75 450.75h2.5v2.5h-2.5zM427.75 452.75h2.5v2.5h-2.5zM427.75 454.75h2.5v2.5h-2.5zM427.75 456.75h2.5v2.5h-2.5zM427.75 460.75h2.5v2.5h-2.5zM427.75 462.75h2.5v2.5h-2.5zM427.75 464.75h2.5v2.5h-2.5zM427.75 466.75h2.5v2.5h-2.5zM427.75 474.75h2.5v2.5h-2.5zM427.75 478.75h2.5v2.5h-2.5zM427.75 482.75h2.5v2.5h-2.5zM427.75 492.75h2.5v2.5h-2.5zM427.75 518.75h2.5v2.5h-2.5zM429.75 336.75h2.5v2.5h-2.5zM429.75 386.75h2.5v2.5h-2.5zM429.75 398.75h2.5v2.5h-2.5zM429.75 400.75h2.5v2.5h-2.5zM429.75 402.75h2.5v2.5h-2.5zM429.75 408.75h2.5v2.5h-2.5zM429.75 414.75h2.5v2.5h-2.5zM429.75 416.75h2.5v2.5h-2.5zM429.75 418.75h2.5v2.5h-2.5zM429.75 420.75h2.5v2.5h-2.5zM429.75 422.75h2.5v2.5h-2.5zM429.75 424.75h2.5v2.5h-2.5zM429.75 426.75h2.5v2.5h-2.5zM429.75 430.75h2.5v2.5h-2.5zM429.75 432.75h2.5v2.5h-2.5zM429.75 434.75h2.5v2.5h-2.5zM429.75 436.75h2.5v2.5h-2.5zM429.75 438.75h2.5v2.5h-2.5zM429.75 442.75h2.5v2.5h-2.5zM429.75 444.75h2.5v2.5h-2.5zM429.75 446.75h2.5v2.5h-2.5zM429.75 448.75h2.5v2.5h-2.5zM429.75 454.75h2.5v2.5h-2.5zM429.75 456.75h2.5v2.5h-2.5zM429.75 458.75h2.5v2.5h-2.5zM429.75 460.75h2.5v2.5h-2.5zM429.75 464.75h2.5v2.5h-2.5zM429.75 466.75h2.5v2.5h-2.5zM429.75 468.75h2.5v2.5h-2.5zM429.75 470.75h2.5v2.5h-2.5zM429.75 484.75h2.5v2.5h-2.5zM429.75 488.75h2.5v2.5h-2.5zM429.75 508.75h2.5v2.5h-2.5zM429.75 512.75h2.5v2.5h-2.5zM431.75 392.75h2.5v2.5h-2.5zM431.75 404.75h2.5v2.5h-2.5zM431.75 408.75h2.5v2.5h-2.5zM431.75 412.75h2.5v2.5h-2.5zM431.75 414.75h2.5v2.5h-2.5zM431.75 416.75h2.5v2.5h-2.5zM431.75 418.75h2.5v2.5h-2.5zM431.75 422.75h2.5v2.5h-2.5zM431.75 424.75h2.5v2.5h-2.5zM431.75 426.75h2.5v2.5h-2.5zM431.75 428.75h2.5v2.5h-2.5zM431.75 430.75h2.5v2.5h-2.5zM431.75 432.75h2.5v2.5h-2.5zM431.75 434.75h2.5v2.5h-2.5zM431.75 436.75h2.5v2.5h-2.5zM431.75 438.75h2.5v2.5h-2.5zM431.75 440.75h2.5v2.5h-2.5zM431.75 442.75h2.5v2.5h-2.5zM431.75 444.75h2.5v2.5h-2.5zM431.75 446.75h2.5v2.5h-2.5zM431.75 448.75h2.5v2.5h-2.5zM431.75 450.75h2.5v2.5h-2.5zM431.75 452.75h2.5v2.5h-2.5zM431.75 458.75h2.5v2.5h-2.5zM431.75 460.75h2.5v2.5h-2.5zM431.75 462.75h2.5v2.5h-2.5zM431.75 464.75h2.5v2.5h-2.5zM431.75 466.75h2.5v2.5h-2.5zM431.75 468.75h2.5v2.5h-2.5zM431.75 470.75h2.5v2.5h-2.5zM431.75 478.75h2.5v2.5h-2.5zM431.75 550.75h2.5v2.5h-2.5zM433.75 360.75h2.5v2.5h-2.5zM433.75 394.75h2.5v2.5h-2.5zM433.75 398.75h2.5v2.5h-2.5zM433.75 408.75h2.5v2.5h-2.5zM433.75 416.75h2.5v2.5h-2.5zM433.75 418.75h2.5v2.5h-2.5zM433.75 420.75h2.5v2.5h-2.5zM433.75 422.75h2.5v2.5h-2.5zM433.75 424.75h2.5v2.5h-2.5zM433.75 426.75h2.5v2.5h-2.5zM433.75 428.75h2.5v2.5h-2.5zM433.75 430.75h2.5v2.5h-2.5zM433.75 432.75h2.5v2.5h-2.5zM433.75 436.75h2.5v2.5h-2.5zM433.75 438.75h2.5v2.5h-2.5zM433.75 440.75h2.5v2.5h-2.5zM433.75 442.75h2.5v2.5h-2.5zM433.75 444.75h2.5v2.5h-2.5zM433.75 450.75h2.5v2.5h-2.5zM433.75 452.75h2.5v2.5h-2.5zM433.75 454.75h2.5v2.5h-2.5zM433.75 456.75h2.5v2.5h-2.5zM433.75 458.75h2.5v2.5h-2.5zM433.75 460.75h2.5v2.5h-2.5zM433.75 462.75h2.5v2.5h-2.5zM433.75 466.75h2.5v2.5h-2.5zM433.75 470.75h2.5v2.5h-2.5zM433.75 472.75h2.5v2.5h-2.5zM433.75 476.75h2.5v2.5h-2.5zM433.75 480.75h2.5v2.5h-2.5zM433.75 482.75h2.5v2.5h-2.5zM433.75 488.75h2.5v2.5h-2.5zM433.75 510.75h2.5v2.5h-2.5zM435.75 380.75h2.5v2.5h-2.5zM435.75 388.75h2.5v2.5h-2.5zM435.75 392.75h2.5v2.5h-2.5zM435.75 398.75h2.5v2.5h-2.5zM435.75 400.75h2.5v2.5h-2.5zM435.75 416.75h2.5v2.5h-2.5zM435.75 418.75h2.5v2.5h-2.5zM435.75 420.75h2.5v2.5h-2.5zM435.75 424.75h2.5v2.5h-2.5zM435.75 426.75h2.5v2.5h-2.5zM435.75 428.75h2.5v2.5h-2.5zM435.75 430.75h2.5v2.5h-2.5zM435.75 438.75h2.5v2.5h-2.5zM435.75 440.75h2.5v2.5h-2.5zM435.75 442.75h2.5v2.5h-2.5zM435.75 448.75h2.5v2.5h-2.5zM435.75 450.75h2.5v2.5h-2.5zM435.75 452.75h2.5v2.5h-2.5zM435.75 454.75h2.5v2.5h-2.5zM435.75 456.75h2.5v2.5h-2.5zM435.75 458.75h2.5v2.5h-2.5zM435.75 460.75h2.5v2.5h-2.5zM435.75 462.75h2.5v2.5h-2.5zM435.75 466.75h2.5v2.5h-2.5zM435.75 468.75h2.5v2.5h-2.5zM435.75 472.75h2.5v2.5h-2.5zM435.75 478.75h2.5v2.5h-2.5zM435.75 482.75h2.5v2.5h-2.5zM435.75 486.75h2.5v2.5h-2.5zM436.75 321.75h2.5v2.5h-2.5zM437.75 374.75h2.5v2.5h-2.5zM437.75 384.75h2.5v2.5h-2.5zM437.75 394.75h2.5v2.5h-2.5zM437.75 406.75h2.5v2.5h-2.5zM437.75 408.75h2.5v2.5h-2.5zM437.75 414.75h2.5v2.5h-2.5zM437.75 416.75h2.5v2.5h-2.5zM437.75 422.75h2.5v2.5h-2.5zM437.75 424.75h2.5v2.5h-2.5zM437.75 428.75h2.5v2.5h-2.5zM437.75 430.75h2.5v2.5h-2.5zM437.75 432.75h2.5v2.5h-2.5zM437.75 434.75h2.5v2.5h-2.5zM437.75 436.75h2.5v2.5h-2.5zM437.75 438.75h2.5v2.5h-2.5zM437.75 440.75h2.5v2.5h-2.5zM437.75 442.75h2.5v2.5h-2.5zM437.75 444.75h2.5v2.5h-2.5zM437.75 448.75h2.5v2.5h-2.5zM437.75 450.75h2.5v2.5h-2.5zM437.75 454.75h2.5v2.5h-2.5zM437.75 458.75h2.5v2.5h-2.5zM437.75 460.75h2.5v2.5h-2.5zM437.75 462.75h2.5v2.5h-2.5zM437.75 466.75h2.5v2.5h-2.5zM437.75 470.75h2.5v2.5h-2.5zM437.75 474.75h2.5v2.5h-2.5zM437.75 490.75h2.5v2.5h-2.5zM439.75 360.75h2.5v2.5h-2.5zM439.75 386.75h2.5v2.5h-2.5zM439.75 400.75h2.5v2.5h-2.5zM439.75 402.75h2.5v2.5h-2.5zM439.75 406.75h2.5v2.5h-2.5zM439.75 408.75h2.5v2.5h-2.5zM439.75 416.75h2.5v2.5h-2.5zM439.75 418.75h2.5v2.5h-2.5zM439.75 420.75h2.5v2.5h-2.5zM439.75 422.75h2.5v2.5h-2.5zM439.75 424.75h2.5v2.5h-2.5zM439.75 426.75h2.5v2.5h-2.5zM439.75 428.75h2.5v2.5h-2.5zM439.75 432.75h2.5v2.5h-2.5zM439.75 434.75h2.5v2.5h-2.5zM439.75 436.75h2.5v2.5h-2.5zM439.75 438.75h2.5v2.5h-2.5zM439.75 444.75h2.5v2.5h-2.5zM439.75 450.75h2.5v2.5h-2.5zM439.75 452.75h2.5v2.5h-2.5zM439.75 456.75h2.5v2.5h-2.5zM439.75 460.75h2.5v2.5h-2.5zM439.75 466.75h2.5v2.5h-2.5zM439.75 472.75h2.5v2.5h-2.5zM439.75 498.75h2.5v2.5h-2.5zM439.75 502.75h2.5v2.5h-2.5zM439.75 516.75h2.5v2.5h-2.5zM441.75 204.75h2.5v2.5h-2.5zM441.75 328.75h2.5v2.5h-2.5zM441.75 394.75h2.5v2.5h-2.5zM441.75 398.75h2.5v2.5h-2.5zM441.75 402.75h2.5v2.5h-2.5zM441.75 406.75h2.5v2.5h-2.5zM441.75 410.75h2.5v2.5h-2.5zM441.75 414.75h2.5v2.5h-2.5zM441.75 416.75h2.5v2.5h-2.5zM441.75 418.75h2.5v2.5h-2.5zM441.75 420.75h2.5v2.5h-2.5zM441.75 422.75h2.5v2.5h-2.5zM441.75 426.75h2.5v2.5h-2.5zM441.75 428.75h2.5v2.5h-2.5zM441.75 430.75h2.5v2.5h-2.5zM441.75 432.75h2.5v2.5h-2.5zM441.75 436.75h2.5v2.5h-2.5zM441.75 438.75h2.5v2.5h-2.5zM441.75 444.75h2.5v2.5h-2.5zM441.75 446.75h2.5v2.5h-2.5zM441.75 448.75h2.5v2.5h-2.5zM441.75 454.75h2.5v2.5h-2.5zM441.75 462.75h2.5v2.5h-2.5zM441.75 464.75h2.5v2.5h-2.5zM441.75 486.75h2.5v2.5h-2.5zM443.75 338.75h2.5v2.5h-2.5zM443.75 380.75h2.5v2.5h-2.5zM443.75 392.75h2.5v2.5h-2.5zM443.75 412.75h2.5v2.5h-2.5zM443.75 420.75h2.5v2.5h-2.5zM443.75 428.75h2.5v2.5h-2.5zM443.75 430.75h2.5v2.5h-2.5zM443.75 432.75h2.5v2.5h-2.5zM443.75 434.75h2.5v2.5h-2.5zM443.75 436.75h2.5v2.5h-2.5zM443.75 438.75h2.5v2.5h-2.5zM443.75 440.75h2.5v2.5h-2.5zM443.75 442.75h2.5v2.5h-2.5zM443.75 452.75h2.5v2.5h-2.5zM443.75 456.75h2.5v2.5h-2.5zM443.75 460.75h2.5v2.5h-2.5zM443.75 464.75h2.5v2.5h-2.5zM443.75 466.75h2.5v2.5h-2.5zM443.75 474.75h2.5v2.5h-2.5zM443.75 484.75h2.5v2.5h-2.5zM443.75 496.75h2.5v2.5h-2.5zM445.75 191.75h2.5v2.5h-2.5zM445.75 396.75h2.5v2.5h-2.5zM445.75 412.75h2.5v2.5h-2.5zM445.75 420.75h2.5v2.5h-2.5zM445.75 422.75h2.5v2.5h-2.5zM445.75 426.75h2.5v2.5h-2.5zM445.75 436.75h2.5v2.5h-2.5zM445.75 438.75h2.5v2.5h-2.5zM445.75 440.75h2.5v2.5h-2.5zM445.75 442.75h2.5v2.5h-2.5zM445.75 444.75h2.5v2.5h-2.5zM445.75 446.75h2.5v2.5h-2.5zM445.75 448.75h2.5v2.5h-2.5zM445.75 452.75h2.5v2.5h-2.5zM445.75 454.75h2.5v2.5h-2.5zM445.75 456.75h2.5v2.5h-2.5zM445.75 458.75h2.5v2.5h-2.5zM445.75 478.75h2.5v2.5h-2.5zM445.75 492.75h2.5v2.5h-2.5zM445.75 496.75h2.5v2.5h-2.5zM447.75 382.75h2.5v2.5h-2.5zM447.75 384.75h2.5v2.5h-2.5zM447.75 396.75h2.5v2.5h-2.5zM447.75 402.75h2.5v2.5h-2.5zM447.75 410.75h2.5v2.5h-2.5zM447.75 414.75h2.5v2.5h-2.5zM447.75 416.75h2.5v2.5h-2.5zM447.75 418.75h2.5v2.5h-2.5zM447.75 422.75h2.5v2.5h-2.5zM447.75 424.75h2.5v2.5h-2.5zM447.75 428.75h2.5v2.5h-2.5zM447.75 432.75h2.5v2.5h-2.5zM447.75 434.75h2.5v2.5h-2.5zM447.75 436.75h2.5v2.5h-2.5zM447.75 438.75h2.5v2.5h-2.5zM447.75 442.75h2.5v2.5h-2.5zM447.75 444.75h2.5v2.5h-2.5zM447.75 446.75h2.5v2.5h-2.5zM447.75 450.75h2.5v2.5h-2.5zM447.75 462.75h2.5v2.5h-2.5zM447.75 478.75h2.5v2.5h-2.5zM447.75 500.75h2.5v2.5h-2.5zM447.75 516.75h2.5v2.5h-2.5zM449.75 384.75h2.5v2.5h-2.5zM449.75 408.75h2.5v2.5h-2.5zM449.75 410.75h2.5v2.5h-2.5zM449.75 412.75h2.5v2.5h-2.5zM449.75 414.75h2.5v2.5h-2.5zM449.75 416.75h2.5v2.5h-2.5zM449.75 422.75h2.5v2.5h-2.5zM449.75 424.75h2.5v2.5h-2.5zM449.75 436.75h2.5v2.5h-2.5zM449.75 442.75h2.5v2.5h-2.5zM449.75 450.75h2.5v2.5h-2.5zM449.75 452.75h2.5v2.5h-2.5zM449.75 456.75h2.5v2.5h-2.5zM449.75 462.75h2.5v2.5h-2.5zM449.75 470.75h2.5v2.5h-2.5zM449.75 474.75h2.5v2.5h-2.5zM449.75 480.75h2.5v2.5h-2.5zM451.75 368.75h2.5v2.5h-2.5zM451.75 384.75h2.5v2.5h-2.5zM451.75 404.75h2.5v2.5h-2.5zM451.75 406.75h2.5v2.5h-2.5zM451.75 410.75h2.5v2.5h-2.5zM451.75 412.75h2.5v2.5h-2.5zM451.75 414.75h2.5v2.5h-2.5zM451.75 420.75h2.5v2.5h-2.5zM451.75 424.75h2.5v2.5h-2.5zM451.75 426.75h2.5v2.5h-2.5zM451.75 438.75h2.5v2.5h-2.5zM451.75 440.75h2.5v2.5h-2.5zM451.75 442.75h2.5v2.5h-2.5zM451.75 464.75h2.5v2.5h-2.5zM453.75 378.75h2.5v2.5h-2.5zM453.75 394.75h2.5v2.5h-2.5zM453.75 420.75h2.5v2.5h-2.5zM453.75 422.75h2.5v2.5h-2.5zM453.75 426.75h2.5v2.5h-2.5zM453.75 436.75h2.5v2.5h-2.5zM453.75 438.75h2.5v2.5h-2.5zM453.75 440.75h2.5v2.5h-2.5zM453.75 442.75h2.5v2.5h-2.5zM453.75 446.75h2.5v2.5h-2.5zM453.75 448.75h2.5v2.5h-2.5zM453.75 452.75h2.5v2.5h-2.5zM453.75 454.75h2.5v2.5h-2.5zM453.75 468.75h2.5v2.5h-2.5zM453.75 484.75h2.5v2.5h-2.5zM455.75 324.75h2.5v2.5h-2.5zM455.75 372.75h2.5v2.5h-2.5zM455.75 374.75h2.5v2.5h-2.5zM455.75 404.75h2.5v2.5h-2.5zM455.75 410.75h2.5v2.5h-2.5zM455.75 412.75h2.5v2.5h-2.5zM455.75 416.75h2.5v2.5h-2.5zM455.75 422.75h2.5v2.5h-2.5zM455.75 424.75h2.5v2.5h-2.5zM455.75 426.75h2.5v2.5h-2.5zM455.75 428.75h2.5v2.5h-2.5zM455.75 430.75h2.5v2.5h-2.5zM455.75 432.75h2.5v2.5h-2.5zM455.75 436.75h2.5v2.5h-2.5zM455.75 444.75h2.5v2.5h-2.5zM455.75 448.75h2.5v2.5h-2.5zM455.75 460.75h2.5v2.5h-2.5zM455.75 474.75h2.5v2.5h-2.5zM455.75 496.75h2.5v2.5h-2.5zM455.75 522.75h2.5v2.5h-2.5zM457.75 384.75h2.5v2.5h-2.5zM457.75 410.75h2.5v2.5h-2.5zM457.75 416.75h2.5v2.5h-2.5zM457.75 418.75h2.5v2.5h-2.5zM457.75 422.75h2.5v2.5h-2.5zM457.75 424.75h2.5v2.5h-2.5zM457.75 430.75h2.5v2.5h-2.5zM457.75 434.75h2.5v2.5h-2.5zM457.75 436.75h2.5v2.5h-2.5zM457.75 438.75h2.5v2.5h-2.5zM457.75 440.75h2.5v2.5h-2.5zM457.75 454.75h2.5v2.5h-2.5zM457.75 458.75h2.5v2.5h-2.5zM457.75 466.75h2.5v2.5h-2.5zM457.75 484.75h2.5v2.5h-2.5zM459.75 380.75h2.5v2.5h-2.5zM459.75 404.75h2.5v2.5h-2.5zM459.75 422.75h2.5v2.5h-2.5zM459.75 430.75h2.5v2.5h-2.5zM459.75 434.75h2.5v2.5h-2.5zM459.75 436.75h2.5v2.5h-2.5zM459.75 440.75h2.5v2.5h-2.5zM459.75 442.75h2.5v2.5h-2.5zM459.75 450.75h2.5v2.5h-2.5zM459.75 452.75h2.5v2.5h-2.5zM459.75 454.75h2.5v2.5h-2.5zM459.75 462.75h2.5v2.5h-2.5zM459.75 466.75h2.5v2.5h-2.5zM459.75 478.75h2.5v2.5h-2.5zM461.75 276.75h2.5v2.5h-2.5zM461.75 319.75h2.5v2.5h-2.5zM461.75 386.75h2.5v2.5h-2.5zM461.75 400.75h2.5v2.5h-2.5zM461.75 404.75h2.5v2.5h-2.5zM461.75 406.75h2.5v2.5h-2.5zM461.75 416.75h2.5v2.5h-2.5zM461.75 432.75h2.5v2.5h-2.5zM461.75 434.75h2.5v2.5h-2.5zM461.75 438.75h2.5v2.5h-2.5zM461.75 440.75h2.5v2.5h-2.5zM461.75 450.75h2.5v2.5h-2.5zM461.75 454.75h2.5v2.5h-2.5zM463.75 388.75h2.5v2.5h-2.5zM463.75 390.75h2.5v2.5h-2.5zM463.75 412.75h2.5v2.5h-2.5zM463.75 416.75h2.5v2.5h-2.5zM463.75 422.75h2.5v2.5h-2.5zM463.75 424.75h2.5v2.5h-2.5zM463.75 436.75h2.5v2.5h-2.5zM463.75 438.75h2.5v2.5h-2.5zM463.75 442.75h2.5v2.5h-2.5zM463.75 446.75h2.5v2.5h-2.5zM463.75 484.75h2.5v2.5h-2.5zM465.75 404.75h2.5v2.5h-2.5zM465.75 422.75h2.5v2.5h-2.5zM465.75 432.75h2.5v2.5h-2.5zM465.75 450.75h2.5v2.5h-2.5zM465.75 468.75h2.5v2.5h-2.5zM467.75 390.75h2.5v2.5h-2.5zM467.75 406.75h2.5v2.5h-2.5zM467.75 410.75h2.5v2.5h-2.5zM467.75 416.75h2.5v2.5h-2.5zM467.75 428.75h2.5v2.5h-2.5zM467.75 436.75h2.5v2.5h-2.5zM467.75 444.75h2.5v2.5h-2.5zM467.75 456.75h2.5v2.5h-2.5zM467.75 458.75h2.5v2.5h-2.5zM467.75 466.75h2.5v2.5h-2.5zM467.75 472.75h2.5v2.5h-2.5zM467.75 484.75h2.5v2.5h-2.5zM469.75 324.75h2.5v2.5h-2.5zM469.75 374.75h2.5v2.5h-2.5zM469.75 418.75h2.5v2.5h-2.5zM469.75 436.75h2.5v2.5h-2.5zM469.75 444.75h2.5v2.5h-2.5zM469.75 450.75h2.5v2.5h-2.5zM469.75 468.75h2.5v2.5h-2.5zM469.75 498.75h2.5v2.5h-2.5zM469.75 510.75h2.5v2.5h-2.5zM471.75 384.75h2.5v2.5h-2.5zM471.75 408.75h2.5v2.5h-2.5zM471.75 456.75h2.5v2.5h-2.5zM471.75 496.75h2.5v2.5h-2.5zM473.75 392.75h2.5v2.5h-2.5zM473.75 404.75h2.5v2.5h-2.5zM473.75 420.75h2.5v2.5h-2.5zM475.75 476.75h2.5v2.5h-2.5zM477.75 440.75h2.5v2.5h-2.5zM479.75 396.75h2.5v2.5h-2.5zM479.75 444.75h2.5v2.5h-2.5zM481.75 560.75h2.5v2.5h-2.5zM483.75 420.75h2.5v2.5h-2.5zM485.75 408.75h2.5v2.5h-2.5zM489.75 368.75h2.5v2.5h-2.5zM489.75 424.75h2.5v2.5h-2.5zM489.75 434.75h2.5v2.5h-2.5zM491.75 438.75h2.5v2.5h-2.5zM493.75 440.75h2.5v2.5h-2.5zM493.75 456.75h2.5v2.5h-2.5zM495.75 416.75h2.5v2.5h-2.5zM495.75 418.75h2.5v2.5h-2.5zM495.75 438.75h2.5v2.5h-2.5zM495.75 476.75h2.5v2.5h-2.5zM501.75 422.75h2.5v2.5h-2.5zM503.75 512.75h2.5v2.5h-2.5zM509.75 436.75h2.5v2.5h-2.5zM517.75 404.75h2.5v2.5h-2.5zM517.75 418.75h2.5v2.5h-2.5zM523.75 464.75h2.5v2.5h-2.5zM523.75 528.75h2.5v2.5h-2.5z"/>
<g fill="#000">
<rect x="112" y="26" width="587" height="3"/>
<rect x="127" y="26" width="3" height="546"/>
<rect x="696" y="26" width="3" height="561"/>
<rect x="127" y="569" width="572" height="3"/>
<rect x="345.5" y="27" width="3" height="543"/>
<rect x="128" y="350" width="569" height="3"/>
<rect x="167.70" y="570" width="3" height="8.5"/><rect x="193.00" y="570" width="3" height="8.5"/><rect x="211.70" y="570" width="3" height="8.5"/><rect x="223.70" y="570" width="3" height="8.5"/><rect x="236.60" y="570" width="3" height="8.5"/><rect x="245.90" y="570" width="3" height="8.5"/><rect x="255.20" y="570" width="3" height="8.5"/><rect x="261.50" y="570" width="3" height="8.5"/><rect x="311.60" y="570" width="3" height="8.5"/><rect x="336.50" y="570" width="3" height="8.5"/><rect x="352.10" y="570" width="3" height="8.5"/><rect x="367.90" y="570" width="3" height="8.5"/><rect x="377.00" y="570" width="3" height="8.5"/><rect x="386.90" y="570" width="3" height="8.5"/><rect x="395.70" y="570" width="3" height="8.5"/><rect x="401.50" y="570" width="3" height="8.5"/><rect x="451.60" y="570" width="3" height="8.5"/><rect x="476.60" y="570" width="3" height="8.5"/><rect x="495.80" y="570" width="3" height="8.5"/><rect x="508.00" y="570" width="3" height="8.5"/><rect x="520.80" y="570" width="3" height="8.5"/><rect x="530.10" y="570" width="3" height="8.5"/><rect x="539.40" y="570" width="3" height="8.5"/><rect x="545.60" y="570" width="3" height="8.5"/><rect x="595.80" y="570" width="3" height="8.5"/><rect x="620.70" y="570" width="3" height="8.5"/><rect x="636.30" y="570" width="3" height="8.5"/><rect x="651.60" y="570" width="3" height="8.5"/><rect x="661.20" y="570" width="3" height="8.5"/><rect x="674.00" y="570" width="3" height="8.5"/><rect x="679.80" y="570" width="3" height="8.5"/><rect x="686.10" y="570" width="3" height="8.5"/><rect x="268.00" y="570" width="3" height="18"/><rect x="411.30" y="570" width="3" height="18"/><rect x="551.80" y="570" width="3" height="18"/><rect x="696.00" y="570" width="3" height="18"/><rect x="121" y="31.80" width="7.50" height="3"/><rect x="121" y="40.70" width="7.50" height="3"/><rect x="121" y="47.30" width="7.50" height="3"/><rect x="121" y="56.70" width="7.50" height="3"/><rect x="121" y="69.10" width="7.50" height="3"/><rect x="121" y="81.80" width="7.50" height="3"/><rect x="121" y="97.50" width="7.50" height="3"/><rect x="121" y="122.40" width="7.50" height="3"/><rect x="121" y="169.00" width="7.50" height="3"/><rect x="121" y="175.50" width="7.50" height="3"/><rect x="121" y="184.90" width="7.50" height="3"/><rect x="121" y="194.20" width="7.50" height="3"/><rect x="121" y="204.00" width="7.50" height="3"/><rect x="121" y="216.00" width="7.50" height="3"/><rect x="121" y="234.70" width="7.50" height="3"/><rect x="121" y="256.80" width="7.50" height="3"/><rect x="121" y="303.70" width="7.50" height="3"/><rect x="121" y="312.90" width="7.50" height="3"/><rect x="121" y="318.50" width="7.50" height="3"/><rect x="121" y="328.80" width="7.50" height="3"/><rect x="121" y="341.00" width="7.50" height="3"/><rect x="121" y="353.70" width="7.50" height="3"/><rect x="121" y="369.00" width="7.50" height="3"/><rect x="121" y="393.90" width="7.50" height="3"/><rect x="121" y="440.70" width="7.50" height="3"/><rect x="121" y="447.50" width="7.50" height="3"/><rect x="121" y="456.90" width="7.50" height="3"/><rect x="121" y="465.80" width="7.50" height="3"/><rect x="121" y="475.60" width="7.50" height="3"/><rect x="121" y="487.90" width="7.50" height="3"/><rect x="121" y="506.90" width="7.50" height="3"/><rect x="121" y="528.90" width="7.50" height="3"/><rect x="112" y="26.00" width="16.50" height="3"/><rect x="112" y="162.70" width="16.50" height="3"/><rect x="112" y="297.30" width="16.50" height="3"/><rect x="112" y="434.60" width="16.50" height="3"/>
</g>
<g fill="#000">
<text x="95.6" y="445.6" text-anchor="end" font-size="26.5" textLength="13.7" lengthAdjust="spacingAndGlyphs">0</text><path d="M76.0 427.6V445.6M76.6 428.0L71.0 433.4" stroke="#000" stroke-width="2.5" fill="none"/><text x="95.5" y="434.6" font-size="17.5">0</text><text x="95.6" y="308.3" text-anchor="end" font-size="26.5" textLength="13.7" lengthAdjust="spacingAndGlyphs">0</text><path d="M76.0 290.3V308.3M76.6 290.7L71.0 296.1" stroke="#000" stroke-width="2.5" fill="none"/><path d="M100.6 285.7V297.3M101.1 286.0L97.6 289.7" stroke="#000" stroke-width="2.2" fill="none"/><text x="95.6" y="173.6" text-anchor="end" font-size="26.5" textLength="13.7" lengthAdjust="spacingAndGlyphs">0</text><path d="M76.0 155.6V173.6M76.6 156.0L71.0 161.4" stroke="#000" stroke-width="2.5" fill="none"/><text x="95.5" y="162.6" font-size="17.5">2</text><text x="95.6" y="37.1" text-anchor="end" font-size="26.5" textLength="13.7" lengthAdjust="spacingAndGlyphs">0</text><path d="M76.0 19.1V37.1M76.6 19.5L71.0 24.9" stroke="#000" stroke-width="2.5" fill="none"/><text x="95.5" y="26.1" font-size="17.5">3</text><text x="278.1" y="618.0" text-anchor="end" font-size="26.5" textLength="13.7" lengthAdjust="spacingAndGlyphs">0</text><path d="M258.5 600.0V618.0M259.1 600.4L253.5 605.8" stroke="#000" stroke-width="2.5" fill="none"/><text x="278.0" y="607.0" font-size="17.5">0</text><text x="421.4" y="618.0" text-anchor="end" font-size="26.5" textLength="13.7" lengthAdjust="spacingAndGlyphs">0</text><path d="M401.8 600.0V618.0M402.4 600.4L396.8 605.8" stroke="#000" stroke-width="2.5" fill="none"/><path d="M426.4 595.4V607.0M426.9 595.7L423.4 599.4" stroke="#000" stroke-width="2.2" fill="none"/><text x="561.9" y="618.0" text-anchor="end" font-size="26.5" textLength="13.7" lengthAdjust="spacingAndGlyphs">0</text><path d="M542.3 600.0V618.0M542.9 600.4L537.3 605.8" stroke="#000" stroke-width="2.5" fill="none"/><text x="561.8" y="607.0" font-size="17.5">2</text><text x="706.1" y="618.0" text-anchor="end" font-size="26.5" textLength="13.7" lengthAdjust="spacingAndGlyphs">0</text><path d="M686.5 600.0V618.0M687.1 600.4L681.5 605.8" stroke="#000" stroke-width="2.5" fill="none"/><text x="706.0" y="607.0" font-size="17.5">3</text>
<text x="339" y="661" font-size="34.4" textLength="146" lengthAdjust="spacingAndGlyphs">CD19-FITC</text>
<text transform="translate(48,384) rotate(-90)" font-size="34.4" textLength="169" lengthAdjust="spacingAndGlyphs">TCR&#946;-AF700</text>
<g font-size="18" fill="#000">
<text x="15" y="710" textLength="616" lengthAdjust="spacingAndGlyphs">C57BL/6 mouse splenocytes were stained with Hamster Anti-Mouse TCR&#946;-</text>
<text x="15" y="730" textLength="595" lengthAdjust="spacingAndGlyphs">AF700 (SB Cat. No. 1785-27) and Rat Anti-Mouse CD19-FITC (SB Cat. No.</text>
<text x="15" y="750" textLength="77" lengthAdjust="spacingAndGlyphs">1575-02).</text>
</g>
</g>
</svg>
</body></html>
